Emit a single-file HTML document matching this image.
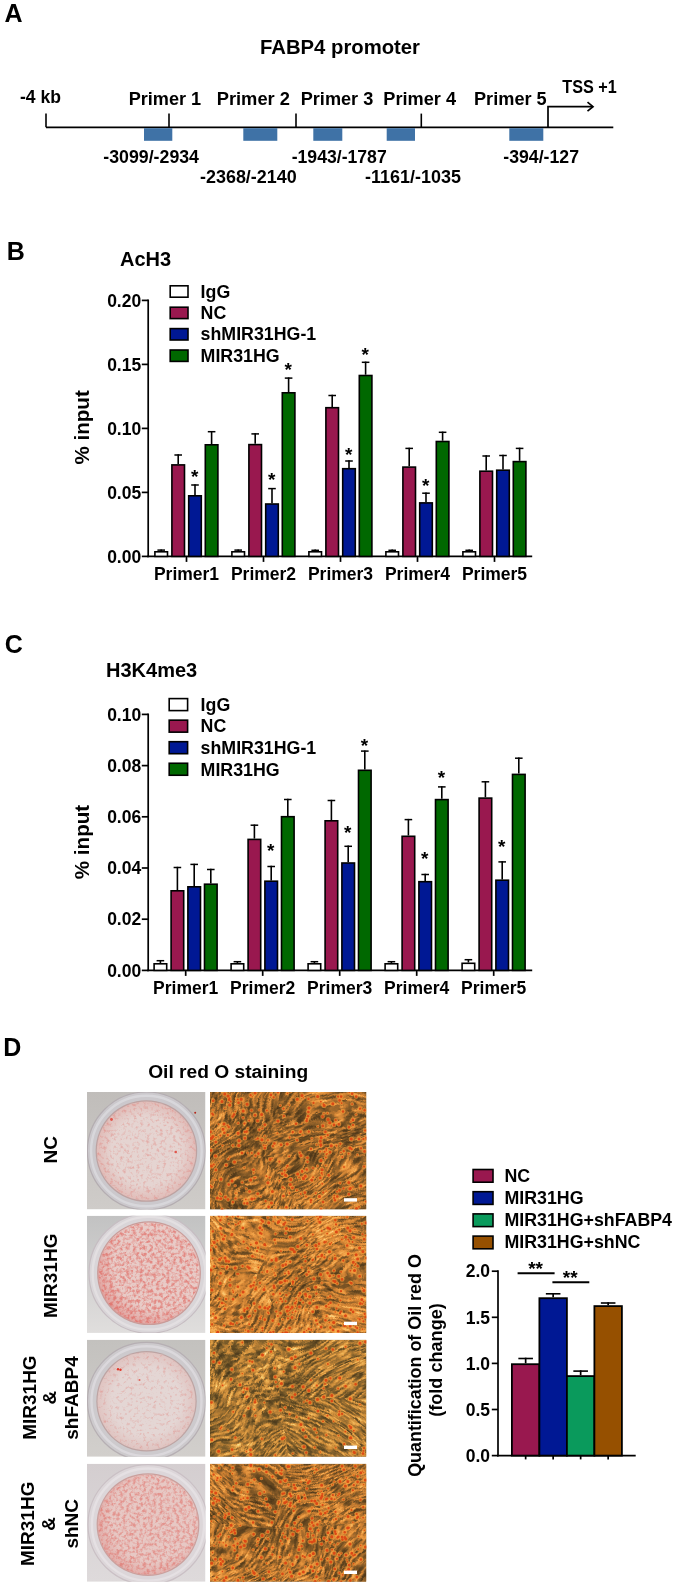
<!DOCTYPE html>
<html><head><meta charset="utf-8"><title>figure</title>
<style>html,body{margin:0;padding:0;background:#fff;} svg{display:block;will-change:transform} text{font-family:"Liberation Sans",sans-serif;fill:#000}</style>
</head><body>
<svg width="675" height="1586" viewBox="0 0 675 1586">
<defs>
<filter id="soft" x="-0.05" y="-0.05" width="1.1" height="1.1"><feGaussianBlur stdDeviation="0.45"/></filter>
<linearGradient id="bgd0" x1="0" y1="0" x2="0" y2="1"><stop offset="0" stop-color="#c0bdba"/><stop offset="1" stop-color="#cfccc9"/></linearGradient>
<radialGradient id="dish0" cx="0.5" cy="0.5" r="0.5"><stop offset="0" stop-color="#e5d4d1"/><stop offset="0.7" stop-color="#e5d4d1"/><stop offset="1" stop-color="#e1bcb8"/></radialGradient>
<clipPath id="cd0"><rect x="87" y="1092" width="118.5" height="117.4"/></clipPath>
<clipPath id="cm0"><rect x="210" y="1092" width="156.4" height="117.4"/></clipPath>
<clipPath id="cmp0_0"><polygon points="210.0,1092.0 280.4,1092.0 264.7,1156.6 210.0,1174.2"/></clipPath>
<clipPath id="cmp0_1"><polygon points="280.4,1092.0 366.4,1092.0 366.4,1144.8 264.7,1156.6"/></clipPath>
<clipPath id="cmp0_2"><polygon points="210.0,1174.2 264.7,1156.6 303.8,1209.4 210.0,1209.4"/></clipPath>
<clipPath id="cmp0_3"><polygon points="264.7,1156.6 366.4,1144.8 366.4,1209.4 303.8,1209.4"/></clipPath>
<filter id="speck0" x="0" y="0" width="1" height="1" color-interpolation-filters="sRGB"><feTurbulence type="fractalNoise" baseFrequency="0.3" numOctaves="3" seed="3" result="n"/><feColorMatrix in="n" type="matrix" values="0 0 0 0 0.87  0 0 0 0 0.33  0 0 0 0 0.30  3.0 0 0 0 -1.5" result="a"/><feComponentTransfer in="a" result="a2"><feFuncA type="linear" slope="0.3"/></feComponentTransfer><feGaussianBlur in="a2" stdDeviation="0.5" result="a3"/><feComposite in="a3" in2="SourceGraphic" operator="in"/></filter>
<filter id="mic0" x="0" y="0" width="1" height="1" color-interpolation-filters="sRGB">
<feTurbulence type="fractalNoise" baseFrequency="0.085 0.42" numOctaves="3" seed="2" result="n1"/>
<feTurbulence type="fractalNoise" baseFrequency="0.012" numOctaves="2" seed="4" result="nd"/>
<feDisplacementMap in="n1" in2="nd" scale="70" xChannelSelector="R" yChannelSelector="G" result="n1d"/>
<feColorMatrix in="n1d" type="matrix" values="1 0 0 0 0  1 0 0 0 0  1 0 0 0 0  0 0 0 0 1" result="g1"/>
<feTurbulence type="fractalNoise" baseFrequency="0.022" numOctaves="2" seed="5" result="n2"/>
<feColorMatrix in="n2" type="matrix" values="1 0 0 0 0  1 0 0 0 0  1 0 0 0 0  0 0 0 0 1" result="g2"/>
<feComposite in="g1" in2="g2" operator="arithmetic" k1="0" k2="1.1" k3="0.4" k4="-0.280" result="g"/>
<feComponentTransfer in="g">
<feFuncR type="table" tableValues="0.280 0.320 0.400 0.550 0.790 0.930 0.980 1.000"/>
<feFuncG type="table" tableValues="0.200 0.225 0.280 0.370 0.495 0.610 0.750 0.870"/>
<feFuncB type="table" tableValues="0.090 0.105 0.125 0.160 0.195 0.260 0.400 0.560"/>
</feComponentTransfer>
</filter>
<linearGradient id="bgd1" x1="0" y1="0" x2="0" y2="1"><stop offset="0" stop-color="#c2c2c2"/><stop offset="1" stop-color="#e0dedd"/></linearGradient>
<radialGradient id="dish1" cx="0.6" cy="0.4" r="0.66"><stop offset="0" stop-color="#e8cbc7"/><stop offset="0.7" stop-color="#e8cbc7"/><stop offset="1" stop-color="#e19d99"/></radialGradient>
<clipPath id="cd1"><rect x="87" y="1215.7" width="118.5" height="117.2"/></clipPath>
<clipPath id="cm1"><rect x="210" y="1215.7" width="156.4" height="117.2"/></clipPath>
<clipPath id="cmp1_0"><polygon points="210.0,1215.7 288.2,1215.7 256.9,1274.3 210.0,1268.4"/></clipPath>
<clipPath id="cmp1_1"><polygon points="288.2,1215.7 366.4,1215.7 366.4,1286.0 256.9,1274.3"/></clipPath>
<clipPath id="cmp1_2"><polygon points="210.0,1268.4 256.9,1274.3 288.2,1332.9 210.0,1332.9"/></clipPath>
<clipPath id="cmp1_3"><polygon points="256.9,1274.3 366.4,1286.0 366.4,1332.9 288.2,1332.9"/></clipPath>
<filter id="speck1" x="0" y="0" width="1" height="1" color-interpolation-filters="sRGB"><feTurbulence type="fractalNoise" baseFrequency="0.3" numOctaves="3" seed="8" result="n"/><feColorMatrix in="n" type="matrix" values="0 0 0 0 0.87  0 0 0 0 0.33  0 0 0 0 0.30  3.0 0 0 0 -1.2" result="a"/><feComponentTransfer in="a" result="a2"><feFuncA type="linear" slope="0.55"/></feComponentTransfer><feGaussianBlur in="a2" stdDeviation="0.5" result="a3"/><feComposite in="a3" in2="SourceGraphic" operator="in"/></filter>
<filter id="mic1" x="0" y="0" width="1" height="1" color-interpolation-filters="sRGB">
<feTurbulence type="fractalNoise" baseFrequency="0.085 0.42" numOctaves="3" seed="9" result="n1"/>
<feTurbulence type="fractalNoise" baseFrequency="0.012" numOctaves="2" seed="15" result="nd"/>
<feDisplacementMap in="n1" in2="nd" scale="70" xChannelSelector="R" yChannelSelector="G" result="n1d"/>
<feColorMatrix in="n1d" type="matrix" values="1 0 0 0 0  1 0 0 0 0  1 0 0 0 0  0 0 0 0 1" result="g1"/>
<feTurbulence type="fractalNoise" baseFrequency="0.022" numOctaves="2" seed="8" result="n2"/>
<feColorMatrix in="n2" type="matrix" values="1 0 0 0 0  1 0 0 0 0  1 0 0 0 0  0 0 0 0 1" result="g2"/>
<feComposite in="g1" in2="g2" operator="arithmetic" k1="0" k2="1.1" k3="0.4" k4="-0.210" result="g"/>
<feComponentTransfer in="g">
<feFuncR type="table" tableValues="0.280 0.320 0.400 0.550 0.790 0.930 0.980 1.000"/>
<feFuncG type="table" tableValues="0.200 0.225 0.280 0.370 0.495 0.610 0.750 0.870"/>
<feFuncB type="table" tableValues="0.090 0.105 0.125 0.160 0.195 0.260 0.400 0.560"/>
</feComponentTransfer>
</filter>
<linearGradient id="bgd2" x1="0" y1="0" x2="0" y2="1"><stop offset="0" stop-color="#c3c1be"/><stop offset="1" stop-color="#d2cfcc"/></linearGradient>
<radialGradient id="dish2" cx="0.5" cy="0.5" r="0.5"><stop offset="0" stop-color="#e4d6d4"/><stop offset="0.7" stop-color="#e4d6d4"/><stop offset="1" stop-color="#e0c4c1"/></radialGradient>
<clipPath id="cd2"><rect x="87" y="1339.7" width="118.5" height="117.1"/></clipPath>
<clipPath id="cm2"><rect x="210" y="1339.7" width="156.4" height="117.1"/></clipPath>
<clipPath id="cmp2_0"><polygon points="210.0,1339.7 272.6,1339.7 280.4,1398.2 210.0,1410.0"/></clipPath>
<clipPath id="cmp2_1"><polygon points="272.6,1339.7 366.4,1339.7 366.4,1398.2 280.4,1398.2"/></clipPath>
<clipPath id="cmp2_2"><polygon points="210.0,1410.0 280.4,1398.2 288.2,1456.8 210.0,1456.8"/></clipPath>
<clipPath id="cmp2_3"><polygon points="280.4,1398.2 366.4,1398.2 366.4,1456.8 288.2,1456.8"/></clipPath>
<filter id="speck2" x="0" y="0" width="1" height="1" color-interpolation-filters="sRGB"><feTurbulence type="fractalNoise" baseFrequency="0.3" numOctaves="3" seed="5" result="n"/><feColorMatrix in="n" type="matrix" values="0 0 0 0 0.87  0 0 0 0 0.33  0 0 0 0 0.30  3.0 0 0 0 -1.6" result="a"/><feComponentTransfer in="a" result="a2"><feFuncA type="linear" slope="0.27"/></feComponentTransfer><feGaussianBlur in="a2" stdDeviation="0.5" result="a3"/><feComposite in="a3" in2="SourceGraphic" operator="in"/></filter>
<filter id="mic2" x="0" y="0" width="1" height="1" color-interpolation-filters="sRGB">
<feTurbulence type="fractalNoise" baseFrequency="0.085 0.42" numOctaves="3" seed="16" result="n1"/>
<feTurbulence type="fractalNoise" baseFrequency="0.012" numOctaves="2" seed="26" result="nd"/>
<feDisplacementMap in="n1" in2="nd" scale="70" xChannelSelector="R" yChannelSelector="G" result="n1d"/>
<feColorMatrix in="n1d" type="matrix" values="1 0 0 0 0  1 0 0 0 0  1 0 0 0 0  0 0 0 0 1" result="g1"/>
<feTurbulence type="fractalNoise" baseFrequency="0.022" numOctaves="2" seed="11" result="n2"/>
<feColorMatrix in="n2" type="matrix" values="1 0 0 0 0  1 0 0 0 0  1 0 0 0 0  0 0 0 0 1" result="g2"/>
<feComposite in="g1" in2="g2" operator="arithmetic" k1="0" k2="1.1" k3="0.4" k4="-0.260" result="g"/>
<feComponentTransfer in="g">
<feFuncR type="table" tableValues="0.274 0.314 0.392 0.539 0.774 0.911 0.960 0.980"/>
<feFuncG type="table" tableValues="0.214 0.241 0.300 0.396 0.530 0.653 0.802 0.931"/>
<feFuncB type="table" tableValues="0.101 0.118 0.140 0.179 0.218 0.291 0.448 0.627"/>
</feComponentTransfer>
</filter>
<linearGradient id="bgd3" x1="0" y1="0" x2="0" y2="1"><stop offset="0" stop-color="#d4ced0"/><stop offset="1" stop-color="#dedadb"/></linearGradient>
<radialGradient id="dish3" cx="0.55" cy="0.45" r="0.6"><stop offset="0" stop-color="#e7c8c4"/><stop offset="0.7" stop-color="#e7c8c4"/><stop offset="1" stop-color="#e1a8a4"/></radialGradient>
<clipPath id="cd3"><rect x="87" y="1463.7" width="118.5" height="118.1"/></clipPath>
<clipPath id="cm3"><rect x="210" y="1463.7" width="156.4" height="118.1"/></clipPath>
<clipPath id="cmp3_0"><polygon points="210.0,1463.7 288.2,1463.7 272.6,1528.7 210.0,1522.8"/></clipPath>
<clipPath id="cmp3_1"><polygon points="288.2,1463.7 366.4,1463.7 366.4,1522.8 272.6,1528.7"/></clipPath>
<clipPath id="cmp3_2"><polygon points="210.0,1522.8 272.6,1528.7 280.4,1581.8 210.0,1581.8"/></clipPath>
<clipPath id="cmp3_3"><polygon points="272.6,1528.7 366.4,1522.8 366.4,1581.8 280.4,1581.8"/></clipPath>
<filter id="speck3" x="0" y="0" width="1" height="1" color-interpolation-filters="sRGB"><feTurbulence type="fractalNoise" baseFrequency="0.3" numOctaves="3" seed="12" result="n"/><feColorMatrix in="n" type="matrix" values="0 0 0 0 0.87  0 0 0 0 0.33  0 0 0 0 0.30  3.0 0 0 0 -1.25" result="a"/><feComponentTransfer in="a" result="a2"><feFuncA type="linear" slope="0.45"/></feComponentTransfer><feGaussianBlur in="a2" stdDeviation="0.5" result="a3"/><feComposite in="a3" in2="SourceGraphic" operator="in"/></filter>
<filter id="mic3" x="0" y="0" width="1" height="1" color-interpolation-filters="sRGB">
<feTurbulence type="fractalNoise" baseFrequency="0.085 0.42" numOctaves="3" seed="23" result="n1"/>
<feTurbulence type="fractalNoise" baseFrequency="0.012" numOctaves="2" seed="37" result="nd"/>
<feDisplacementMap in="n1" in2="nd" scale="70" xChannelSelector="R" yChannelSelector="G" result="n1d"/>
<feColorMatrix in="n1d" type="matrix" values="1 0 0 0 0  1 0 0 0 0  1 0 0 0 0  0 0 0 0 1" result="g1"/>
<feTurbulence type="fractalNoise" baseFrequency="0.022" numOctaves="2" seed="14" result="n2"/>
<feColorMatrix in="n2" type="matrix" values="1 0 0 0 0  1 0 0 0 0  1 0 0 0 0  0 0 0 0 1" result="g2"/>
<feComposite in="g1" in2="g2" operator="arithmetic" k1="0" k2="1.1" k3="0.4" k4="-0.250" result="g"/>
<feComponentTransfer in="g">
<feFuncR type="table" tableValues="0.280 0.320 0.400 0.550 0.790 0.930 0.980 1.000"/>
<feFuncG type="table" tableValues="0.200 0.225 0.280 0.370 0.495 0.610 0.750 0.870"/>
<feFuncB type="table" tableValues="0.090 0.105 0.125 0.160 0.195 0.260 0.400 0.560"/>
</feComponentTransfer>
</filter>
</defs>
<rect width="675" height="1586" fill="#fff"/>
<text x="4.6" y="21.8" font-size="25" font-weight="bold" text-anchor="start" >A</text>
<text x="340" y="53.6" font-size="19.3" font-weight="bold" text-anchor="middle" textLength="160" lengthAdjust="spacingAndGlyphs" >FABP4 promoter</text>
<line x1="46" y1="127.3" x2="613.3" y2="127.3" stroke="#000" stroke-width="1.7" />
<line x1="46" y1="113.6" x2="46" y2="127.3" stroke="#000" stroke-width="1.6" />
<line x1="169" y1="113.6" x2="169" y2="127.3" stroke="#000" stroke-width="1.6" />
<line x1="296" y1="113.6" x2="296" y2="127.3" stroke="#000" stroke-width="1.6" />
<line x1="421.3" y1="113.6" x2="421.3" y2="127.3" stroke="#000" stroke-width="1.6" />
<polyline points="548,127.3 548,106.7 592.5,106.7" fill="none" stroke="#000" stroke-width="1.7"/>
<polyline points="587.5,102.2 593,106.7 587.5,111.2" fill="none" stroke="#000" stroke-width="1.7"/>
<rect x="144" y="128.2" width="28.3" height="12.6" fill="#3f72a6"/>
<rect x="243.3" y="128.2" width="34.0" height="12.6" fill="#3f72a6"/>
<rect x="313.3" y="128.2" width="29.0" height="12.6" fill="#3f72a6"/>
<rect x="386.7" y="128.2" width="28.3" height="12.6" fill="#3f72a6"/>
<rect x="509.3" y="128.2" width="34.0" height="12.6" fill="#3f72a6"/>
<text x="20" y="102.7" font-size="18.8" font-weight="bold" text-anchor="start" textLength="41" lengthAdjust="spacingAndGlyphs" >-4 kb</text>
<text x="128.7" y="105" font-size="18.8" font-weight="bold" text-anchor="start" textLength="72.5" lengthAdjust="spacingAndGlyphs" >Primer 1</text>
<text x="216.7" y="105" font-size="18.8" font-weight="bold" text-anchor="start" textLength="73.3" lengthAdjust="spacingAndGlyphs" >Primer 2</text>
<text x="300.7" y="105" font-size="18.8" font-weight="bold" text-anchor="start" textLength="72.6" lengthAdjust="spacingAndGlyphs" >Primer 3</text>
<text x="383.3" y="105" font-size="18.8" font-weight="bold" text-anchor="start" textLength="72.7" lengthAdjust="spacingAndGlyphs" >Primer 4</text>
<text x="474" y="105" font-size="18.8" font-weight="bold" text-anchor="start" textLength="72.7" lengthAdjust="spacingAndGlyphs" >Primer 5</text>
<text x="562.3" y="92.7" font-size="18.8" font-weight="bold" text-anchor="start" textLength="54.4" lengthAdjust="spacingAndGlyphs" >TSS +1</text>
<text x="103.3" y="163.3" font-size="18.8" font-weight="bold" text-anchor="start" textLength="95.7" lengthAdjust="spacingAndGlyphs" >-3099/-2934</text>
<text x="200" y="183.3" font-size="18.8" font-weight="bold" text-anchor="start" textLength="96.7" lengthAdjust="spacingAndGlyphs" >-2368/-2140</text>
<text x="291.7" y="163.3" font-size="18.8" font-weight="bold" text-anchor="start" textLength="95" lengthAdjust="spacingAndGlyphs" >-1943/-1787</text>
<text x="365" y="183.3" font-size="18.8" font-weight="bold" text-anchor="start" textLength="96" lengthAdjust="spacingAndGlyphs" >-1161/-1035</text>
<text x="503.3" y="163.3" font-size="18.8" font-weight="bold" text-anchor="start" textLength="75.7" lengthAdjust="spacingAndGlyphs" >-394/-127</text>
<text x="6.7" y="260" font-size="25" font-weight="bold" text-anchor="start" >B</text>
<text x="120" y="266" font-size="20" font-weight="bold" text-anchor="start" >AcH3</text>
<line x1="148.2" y1="299.54999999999995" x2="148.2" y2="557.25" stroke="#000" stroke-width="1.7" />
<line x1="147.35" y1="556.4" x2="532.2" y2="556.4" stroke="#000" stroke-width="1.8" />
<line x1="141.8" y1="556.4" x2="148.2" y2="556.4" stroke="#000" stroke-width="1.7" />
<text x="141.2" y="562.6" font-size="17.5" font-weight="bold" text-anchor="end" >0.00</text>
<line x1="141.8" y1="492.4" x2="148.2" y2="492.4" stroke="#000" stroke-width="1.7" />
<text x="141.2" y="498.59999999999997" font-size="17.5" font-weight="bold" text-anchor="end" >0.05</text>
<line x1="141.8" y1="428.4" x2="148.2" y2="428.4" stroke="#000" stroke-width="1.7" />
<text x="141.2" y="434.59999999999997" font-size="17.5" font-weight="bold" text-anchor="end" >0.10</text>
<line x1="141.8" y1="364.4" x2="148.2" y2="364.4" stroke="#000" stroke-width="1.7" />
<text x="141.2" y="370.59999999999997" font-size="17.5" font-weight="bold" text-anchor="end" >0.15</text>
<line x1="141.8" y1="300.4" x2="148.2" y2="300.4" stroke="#000" stroke-width="1.7" />
<text x="141.2" y="306.59999999999997" font-size="17.5" font-weight="bold" text-anchor="end" >0.20</text>
<text transform="translate(89,427.4) rotate(-90)" font-size="20.6" font-weight="bold" text-anchor="middle" >% input</text>
<rect x="170.20" y="285.80" width="17.80" height="11.40" fill="#fff" stroke="#000" stroke-width="1.6"/>
<text x="200.6" y="297.5" font-size="17.8" font-weight="bold" text-anchor="start" >IgG</text>
<rect x="170.20" y="307.20" width="17.80" height="11.40" fill="#99184f" stroke="#000" stroke-width="1.6"/>
<text x="200.6" y="318.9" font-size="17.8" font-weight="bold" text-anchor="start" >NC</text>
<rect x="170.20" y="328.60" width="17.80" height="11.40" fill="#001894" stroke="#000" stroke-width="1.6"/>
<text x="200.6" y="340.3" font-size="17.8" font-weight="bold" text-anchor="start" >shMIR31HG-1</text>
<rect x="170.20" y="350.00" width="17.80" height="11.40" fill="#006800" stroke="#000" stroke-width="1.6"/>
<text x="200.6" y="361.7" font-size="17.8" font-weight="bold" text-anchor="start" >MIR31HG</text>
<line x1="161.2" y1="549.4" x2="161.2" y2="551.0" stroke="#000" stroke-width="1.6" />
<line x1="157.39999999999998" y1="550.1" x2="165.0" y2="550.1" stroke="#000" stroke-width="1.5" />
<rect x="154.90" y="551.80" width="12.60" height="4.60" fill="#fff" stroke="#000" stroke-width="1.6"/>
<line x1="178.2" y1="454.3" x2="178.2" y2="464.1" stroke="#000" stroke-width="1.6" />
<line x1="174.39999999999998" y1="455.0" x2="182.0" y2="455.0" stroke="#000" stroke-width="1.5" />
<rect x="171.90" y="464.90" width="12.60" height="91.50" fill="#99184f" stroke="#000" stroke-width="1.6"/>
<line x1="194.99999999999997" y1="484.3" x2="194.99999999999997" y2="495.0" stroke="#000" stroke-width="1.6" />
<line x1="191.19999999999996" y1="485.0" x2="198.79999999999998" y2="485.0" stroke="#000" stroke-width="1.5" />
<rect x="188.70" y="495.80" width="12.60" height="60.60" fill="#001894" stroke="#000" stroke-width="1.6"/>
<line x1="211.6" y1="431.0" x2="211.6" y2="444.0" stroke="#000" stroke-width="1.6" />
<line x1="207.79999999999998" y1="431.7" x2="215.4" y2="431.7" stroke="#000" stroke-width="1.5" />
<rect x="205.30" y="444.80" width="12.60" height="111.60" fill="#006800" stroke="#000" stroke-width="1.6"/>
<line x1="186.5" y1="556.4" x2="186.5" y2="561.9" stroke="#000" stroke-width="1.7" />
<text x="186.5" y="579.9" font-size="17.5" font-weight="bold" text-anchor="middle" >Primer1</text>
<line x1="238.2" y1="549.4" x2="238.2" y2="551.0" stroke="#000" stroke-width="1.6" />
<line x1="234.39999999999998" y1="550.1" x2="242.0" y2="550.1" stroke="#000" stroke-width="1.5" />
<rect x="231.90" y="551.80" width="12.60" height="4.60" fill="#fff" stroke="#000" stroke-width="1.6"/>
<line x1="255.2" y1="433.2" x2="255.2" y2="443.8" stroke="#000" stroke-width="1.6" />
<line x1="251.39999999999998" y1="433.9" x2="259.0" y2="433.9" stroke="#000" stroke-width="1.5" />
<rect x="248.90" y="444.60" width="12.60" height="111.80" fill="#99184f" stroke="#000" stroke-width="1.6"/>
<line x1="272.0" y1="487.9" x2="272.0" y2="503.2" stroke="#000" stroke-width="1.6" />
<line x1="268.2" y1="488.59999999999997" x2="275.8" y2="488.59999999999997" stroke="#000" stroke-width="1.5" />
<rect x="265.70" y="504.00" width="12.60" height="52.40" fill="#001894" stroke="#000" stroke-width="1.6"/>
<line x1="288.6" y1="377.4" x2="288.6" y2="392.0" stroke="#000" stroke-width="1.6" />
<line x1="284.8" y1="378.09999999999997" x2="292.40000000000003" y2="378.09999999999997" stroke="#000" stroke-width="1.5" />
<rect x="282.30" y="392.80" width="12.60" height="163.60" fill="#006800" stroke="#000" stroke-width="1.6"/>
<line x1="263.5" y1="556.4" x2="263.5" y2="561.9" stroke="#000" stroke-width="1.7" />
<text x="263.5" y="579.9" font-size="17.5" font-weight="bold" text-anchor="middle" >Primer2</text>
<line x1="315.20000000000005" y1="549.6" x2="315.20000000000005" y2="551.0" stroke="#000" stroke-width="1.6" />
<line x1="311.40000000000003" y1="550.3000000000001" x2="319.00000000000006" y2="550.3000000000001" stroke="#000" stroke-width="1.5" />
<rect x="308.90" y="551.80" width="12.60" height="4.60" fill="#fff" stroke="#000" stroke-width="1.6"/>
<line x1="332.20000000000005" y1="394.8" x2="332.20000000000005" y2="406.9" stroke="#000" stroke-width="1.6" />
<line x1="328.40000000000003" y1="395.5" x2="336.00000000000006" y2="395.5" stroke="#000" stroke-width="1.5" />
<rect x="325.90" y="407.70" width="12.60" height="148.70" fill="#99184f" stroke="#000" stroke-width="1.6"/>
<line x1="349.00000000000006" y1="460.3" x2="349.00000000000006" y2="467.9" stroke="#000" stroke-width="1.6" />
<line x1="345.20000000000005" y1="461.0" x2="352.80000000000007" y2="461.0" stroke="#000" stroke-width="1.5" />
<rect x="342.70" y="468.70" width="12.60" height="87.70" fill="#001894" stroke="#000" stroke-width="1.6"/>
<line x1="365.6" y1="361.6" x2="365.6" y2="374.7" stroke="#000" stroke-width="1.6" />
<line x1="361.8" y1="362.3" x2="369.40000000000003" y2="362.3" stroke="#000" stroke-width="1.5" />
<rect x="359.30" y="375.50" width="12.60" height="180.90" fill="#006800" stroke="#000" stroke-width="1.6"/>
<line x1="340.5" y1="556.4" x2="340.5" y2="561.9" stroke="#000" stroke-width="1.7" />
<text x="340.5" y="579.9" font-size="17.5" font-weight="bold" text-anchor="middle" >Primer3</text>
<line x1="392.20000000000005" y1="549.6" x2="392.20000000000005" y2="551.0" stroke="#000" stroke-width="1.6" />
<line x1="388.40000000000003" y1="550.3000000000001" x2="396.00000000000006" y2="550.3000000000001" stroke="#000" stroke-width="1.5" />
<rect x="385.90" y="551.80" width="12.60" height="4.60" fill="#fff" stroke="#000" stroke-width="1.6"/>
<line x1="409.20000000000005" y1="447.7" x2="409.20000000000005" y2="466.3" stroke="#000" stroke-width="1.6" />
<line x1="405.40000000000003" y1="448.4" x2="413.00000000000006" y2="448.4" stroke="#000" stroke-width="1.5" />
<rect x="402.90" y="467.10" width="12.60" height="89.30" fill="#99184f" stroke="#000" stroke-width="1.6"/>
<line x1="426.00000000000006" y1="492.5" x2="426.00000000000006" y2="502.1" stroke="#000" stroke-width="1.6" />
<line x1="422.20000000000005" y1="493.2" x2="429.80000000000007" y2="493.2" stroke="#000" stroke-width="1.5" />
<rect x="419.70" y="502.90" width="12.60" height="53.50" fill="#001894" stroke="#000" stroke-width="1.6"/>
<line x1="442.6" y1="431.6" x2="442.6" y2="440.7" stroke="#000" stroke-width="1.6" />
<line x1="438.8" y1="432.3" x2="446.40000000000003" y2="432.3" stroke="#000" stroke-width="1.5" />
<rect x="436.30" y="441.50" width="12.60" height="114.90" fill="#006800" stroke="#000" stroke-width="1.6"/>
<line x1="417.5" y1="556.4" x2="417.5" y2="561.9" stroke="#000" stroke-width="1.7" />
<text x="417.5" y="579.9" font-size="17.5" font-weight="bold" text-anchor="middle" >Primer4</text>
<line x1="469.20000000000005" y1="549.6" x2="469.20000000000005" y2="551.0" stroke="#000" stroke-width="1.6" />
<line x1="465.40000000000003" y1="550.3000000000001" x2="473.00000000000006" y2="550.3000000000001" stroke="#000" stroke-width="1.5" />
<rect x="462.90" y="551.80" width="12.60" height="4.60" fill="#fff" stroke="#000" stroke-width="1.6"/>
<line x1="486.20000000000005" y1="455.3" x2="486.20000000000005" y2="470.4" stroke="#000" stroke-width="1.6" />
<line x1="482.40000000000003" y1="456.0" x2="490.00000000000006" y2="456.0" stroke="#000" stroke-width="1.5" />
<rect x="479.90" y="471.20" width="12.60" height="85.20" fill="#99184f" stroke="#000" stroke-width="1.6"/>
<line x1="503.00000000000006" y1="454.8" x2="503.00000000000006" y2="469.4" stroke="#000" stroke-width="1.6" />
<line x1="499.20000000000005" y1="455.5" x2="506.80000000000007" y2="455.5" stroke="#000" stroke-width="1.5" />
<rect x="496.70" y="470.20" width="12.60" height="86.20" fill="#001894" stroke="#000" stroke-width="1.6"/>
<line x1="519.6" y1="447.7" x2="519.6" y2="460.8" stroke="#000" stroke-width="1.6" />
<line x1="515.8000000000001" y1="448.4" x2="523.4" y2="448.4" stroke="#000" stroke-width="1.5" />
<rect x="513.30" y="461.60" width="12.60" height="94.80" fill="#006800" stroke="#000" stroke-width="1.6"/>
<line x1="494.5" y1="556.4" x2="494.5" y2="561.9" stroke="#000" stroke-width="1.7" />
<text x="494.5" y="579.9" font-size="17.5" font-weight="bold" text-anchor="middle" >Primer5</text>
<text x="194.59999999999997" y="483.40000000000003" font-size="19" font-weight="bold" text-anchor="middle" >*</text>
<text x="271.6" y="486.20000000000005" font-size="19" font-weight="bold" text-anchor="middle" >*</text>
<text x="288.20000000000005" y="376.40000000000003" font-size="19" font-weight="bold" text-anchor="middle" >*</text>
<text x="348.6000000000001" y="461.3" font-size="19" font-weight="bold" text-anchor="middle" >*</text>
<text x="365.20000000000005" y="360.6" font-size="19" font-weight="bold" text-anchor="middle" >*</text>
<text x="425.6000000000001" y="491.6" font-size="19" font-weight="bold" text-anchor="middle" >*</text>
<text x="4.8" y="653.3" font-size="25" font-weight="bold" text-anchor="start" >C</text>
<text x="106" y="677.3" font-size="20" font-weight="bold" text-anchor="start" >H3K4me3</text>
<line x1="148.2" y1="713.55" x2="148.2" y2="971.25" stroke="#000" stroke-width="1.7" />
<line x1="147.35" y1="970.4" x2="532.2" y2="970.4" stroke="#000" stroke-width="1.8" />
<line x1="141.8" y1="970.4" x2="148.2" y2="970.4" stroke="#000" stroke-width="1.7" />
<text x="141.2" y="976.6" font-size="17.5" font-weight="bold" text-anchor="end" >0.00</text>
<line x1="141.8" y1="919.1999999999999" x2="148.2" y2="919.1999999999999" stroke="#000" stroke-width="1.7" />
<text x="141.2" y="925.4" font-size="17.5" font-weight="bold" text-anchor="end" >0.02</text>
<line x1="141.8" y1="868.0" x2="148.2" y2="868.0" stroke="#000" stroke-width="1.7" />
<text x="141.2" y="874.2" font-size="17.5" font-weight="bold" text-anchor="end" >0.04</text>
<line x1="141.8" y1="816.8" x2="148.2" y2="816.8" stroke="#000" stroke-width="1.7" />
<text x="141.2" y="823.0" font-size="17.5" font-weight="bold" text-anchor="end" >0.06</text>
<line x1="141.8" y1="765.5999999999999" x2="148.2" y2="765.5999999999999" stroke="#000" stroke-width="1.7" />
<text x="141.2" y="771.8" font-size="17.5" font-weight="bold" text-anchor="end" >0.08</text>
<line x1="141.8" y1="714.4" x2="148.2" y2="714.4" stroke="#000" stroke-width="1.7" />
<text x="141.2" y="720.6" font-size="17.5" font-weight="bold" text-anchor="end" >0.10</text>
<text transform="translate(89,842) rotate(-90)" font-size="20.6" font-weight="bold" text-anchor="middle" >% input</text>
<rect x="169.20" y="698.60" width="18.40" height="12.00" fill="#fff" stroke="#000" stroke-width="1.6"/>
<text x="200.6" y="710.9" font-size="17.8" font-weight="bold" text-anchor="start" >IgG</text>
<rect x="169.20" y="720.15" width="18.40" height="12.00" fill="#99184f" stroke="#000" stroke-width="1.6"/>
<text x="200.6" y="732.4499999999999" font-size="17.8" font-weight="bold" text-anchor="start" >NC</text>
<rect x="169.20" y="741.70" width="18.40" height="12.00" fill="#001894" stroke="#000" stroke-width="1.6"/>
<text x="200.6" y="754.0" font-size="17.8" font-weight="bold" text-anchor="start" >shMIR31HG-1</text>
<rect x="169.20" y="763.25" width="18.40" height="12.00" fill="#006800" stroke="#000" stroke-width="1.6"/>
<text x="200.6" y="775.55" font-size="17.8" font-weight="bold" text-anchor="start" >MIR31HG</text>
<line x1="160.4" y1="960.0" x2="160.4" y2="963.0" stroke="#000" stroke-width="1.6" />
<line x1="156.6" y1="960.7" x2="164.20000000000002" y2="960.7" stroke="#000" stroke-width="1.5" />
<rect x="154.10" y="963.80" width="12.60" height="6.60" fill="#fff" stroke="#000" stroke-width="1.6"/>
<line x1="177.4" y1="866.8" x2="177.4" y2="890.0" stroke="#000" stroke-width="1.6" />
<line x1="173.6" y1="867.5" x2="181.20000000000002" y2="867.5" stroke="#000" stroke-width="1.5" />
<rect x="171.10" y="890.80" width="12.60" height="79.60" fill="#99184f" stroke="#000" stroke-width="1.6"/>
<line x1="194.20000000000002" y1="863.7" x2="194.20000000000002" y2="886.0" stroke="#000" stroke-width="1.6" />
<line x1="190.4" y1="864.4000000000001" x2="198.00000000000003" y2="864.4000000000001" stroke="#000" stroke-width="1.5" />
<rect x="187.90" y="886.80" width="12.60" height="83.60" fill="#001894" stroke="#000" stroke-width="1.6"/>
<line x1="210.8" y1="868.8" x2="210.8" y2="883.4" stroke="#000" stroke-width="1.6" />
<line x1="207.0" y1="869.5" x2="214.60000000000002" y2="869.5" stroke="#000" stroke-width="1.5" />
<rect x="204.50" y="884.20" width="12.60" height="86.20" fill="#006800" stroke="#000" stroke-width="1.6"/>
<line x1="185.70000000000002" y1="970.4" x2="185.70000000000002" y2="975.9" stroke="#000" stroke-width="1.7" />
<text x="185.70000000000002" y="993.9" font-size="17.5" font-weight="bold" text-anchor="middle" >Primer1</text>
<line x1="237.4" y1="961.0" x2="237.4" y2="963.0" stroke="#000" stroke-width="1.6" />
<line x1="233.6" y1="961.7" x2="241.20000000000002" y2="961.7" stroke="#000" stroke-width="1.5" />
<rect x="231.10" y="963.80" width="12.60" height="6.60" fill="#fff" stroke="#000" stroke-width="1.6"/>
<line x1="254.4" y1="824.5" x2="254.4" y2="838.6" stroke="#000" stroke-width="1.6" />
<line x1="250.6" y1="825.2" x2="258.2" y2="825.2" stroke="#000" stroke-width="1.5" />
<rect x="248.10" y="839.40" width="12.60" height="131.00" fill="#99184f" stroke="#000" stroke-width="1.6"/>
<line x1="271.20000000000005" y1="865.8" x2="271.20000000000005" y2="880.4" stroke="#000" stroke-width="1.6" />
<line x1="267.40000000000003" y1="866.5" x2="275.00000000000006" y2="866.5" stroke="#000" stroke-width="1.5" />
<rect x="264.90" y="881.20" width="12.60" height="89.20" fill="#001894" stroke="#000" stroke-width="1.6"/>
<line x1="287.8" y1="798.8" x2="287.8" y2="815.9" stroke="#000" stroke-width="1.6" />
<line x1="284.0" y1="799.5" x2="291.6" y2="799.5" stroke="#000" stroke-width="1.5" />
<rect x="281.50" y="816.70" width="12.60" height="153.70" fill="#006800" stroke="#000" stroke-width="1.6"/>
<line x1="262.7" y1="970.4" x2="262.7" y2="975.9" stroke="#000" stroke-width="1.7" />
<text x="262.7" y="993.9" font-size="17.5" font-weight="bold" text-anchor="middle" >Primer2</text>
<line x1="314.40000000000003" y1="961.0" x2="314.40000000000003" y2="963.0" stroke="#000" stroke-width="1.6" />
<line x1="310.6" y1="961.7" x2="318.20000000000005" y2="961.7" stroke="#000" stroke-width="1.5" />
<rect x="308.10" y="963.80" width="12.60" height="6.60" fill="#fff" stroke="#000" stroke-width="1.6"/>
<line x1="331.40000000000003" y1="799.8" x2="331.40000000000003" y2="820.0" stroke="#000" stroke-width="1.6" />
<line x1="327.6" y1="800.5" x2="335.20000000000005" y2="800.5" stroke="#000" stroke-width="1.5" />
<rect x="325.10" y="820.80" width="12.60" height="149.60" fill="#99184f" stroke="#000" stroke-width="1.6"/>
<line x1="348.20000000000005" y1="845.6" x2="348.20000000000005" y2="862.2" stroke="#000" stroke-width="1.6" />
<line x1="344.40000000000003" y1="846.3000000000001" x2="352.00000000000006" y2="846.3000000000001" stroke="#000" stroke-width="1.5" />
<rect x="341.90" y="863.00" width="12.60" height="107.40" fill="#001894" stroke="#000" stroke-width="1.6"/>
<line x1="364.8" y1="750.4" x2="364.8" y2="769.5" stroke="#000" stroke-width="1.6" />
<line x1="361.0" y1="751.1" x2="368.6" y2="751.1" stroke="#000" stroke-width="1.5" />
<rect x="358.50" y="770.30" width="12.60" height="200.10" fill="#006800" stroke="#000" stroke-width="1.6"/>
<line x1="339.7" y1="970.4" x2="339.7" y2="975.9" stroke="#000" stroke-width="1.7" />
<text x="339.7" y="993.9" font-size="17.5" font-weight="bold" text-anchor="middle" >Primer3</text>
<line x1="391.40000000000003" y1="961.0" x2="391.40000000000003" y2="963.0" stroke="#000" stroke-width="1.6" />
<line x1="387.6" y1="961.7" x2="395.20000000000005" y2="961.7" stroke="#000" stroke-width="1.5" />
<rect x="385.10" y="963.80" width="12.60" height="6.60" fill="#fff" stroke="#000" stroke-width="1.6"/>
<line x1="408.40000000000003" y1="818.9" x2="408.40000000000003" y2="835.5" stroke="#000" stroke-width="1.6" />
<line x1="404.6" y1="819.6" x2="412.20000000000005" y2="819.6" stroke="#000" stroke-width="1.5" />
<rect x="402.10" y="836.30" width="12.60" height="134.10" fill="#99184f" stroke="#000" stroke-width="1.6"/>
<line x1="425.20000000000005" y1="873.8" x2="425.20000000000005" y2="880.9" stroke="#000" stroke-width="1.6" />
<line x1="421.40000000000003" y1="874.5" x2="429.00000000000006" y2="874.5" stroke="#000" stroke-width="1.5" />
<rect x="418.90" y="881.70" width="12.60" height="88.70" fill="#001894" stroke="#000" stroke-width="1.6"/>
<line x1="441.8" y1="786.2" x2="441.8" y2="798.8" stroke="#000" stroke-width="1.6" />
<line x1="438.0" y1="786.9000000000001" x2="445.6" y2="786.9000000000001" stroke="#000" stroke-width="1.5" />
<rect x="435.50" y="799.60" width="12.60" height="170.80" fill="#006800" stroke="#000" stroke-width="1.6"/>
<line x1="416.7" y1="970.4" x2="416.7" y2="975.9" stroke="#000" stroke-width="1.7" />
<text x="416.7" y="993.9" font-size="17.5" font-weight="bold" text-anchor="middle" >Primer4</text>
<line x1="468.40000000000003" y1="959.0" x2="468.40000000000003" y2="962.5" stroke="#000" stroke-width="1.6" />
<line x1="464.6" y1="959.7" x2="472.20000000000005" y2="959.7" stroke="#000" stroke-width="1.5" />
<rect x="462.10" y="963.30" width="12.60" height="7.10" fill="#fff" stroke="#000" stroke-width="1.6"/>
<line x1="485.40000000000003" y1="781.1" x2="485.40000000000003" y2="797.3" stroke="#000" stroke-width="1.6" />
<line x1="481.6" y1="781.8000000000001" x2="489.20000000000005" y2="781.8000000000001" stroke="#000" stroke-width="1.5" />
<rect x="479.10" y="798.10" width="12.60" height="172.30" fill="#99184f" stroke="#000" stroke-width="1.6"/>
<line x1="502.20000000000005" y1="861.2" x2="502.20000000000005" y2="879.4" stroke="#000" stroke-width="1.6" />
<line x1="498.40000000000003" y1="861.9000000000001" x2="506.00000000000006" y2="861.9000000000001" stroke="#000" stroke-width="1.5" />
<rect x="495.90" y="880.20" width="12.60" height="90.20" fill="#001894" stroke="#000" stroke-width="1.6"/>
<line x1="518.8" y1="757.5" x2="518.8" y2="773.6" stroke="#000" stroke-width="1.6" />
<line x1="515.0" y1="758.2" x2="522.5999999999999" y2="758.2" stroke="#000" stroke-width="1.5" />
<rect x="512.50" y="774.40" width="12.60" height="196.00" fill="#006800" stroke="#000" stroke-width="1.6"/>
<line x1="493.7" y1="970.4" x2="493.7" y2="975.9" stroke="#000" stroke-width="1.7" />
<text x="493.7" y="993.9" font-size="17.5" font-weight="bold" text-anchor="middle" >Primer5</text>
<text x="270.80000000000007" y="856.6" font-size="19" font-weight="bold" text-anchor="middle" >*</text>
<text x="347.80000000000007" y="838.6" font-size="19" font-weight="bold" text-anchor="middle" >*</text>
<text x="364.40000000000003" y="751.7" font-size="19" font-weight="bold" text-anchor="middle" >*</text>
<text x="424.80000000000007" y="865.3000000000001" font-size="19" font-weight="bold" text-anchor="middle" >*</text>
<text x="441.40000000000003" y="783.6" font-size="19" font-weight="bold" text-anchor="middle" >*</text>
<text x="501.80000000000007" y="852.6" font-size="19" font-weight="bold" text-anchor="middle" >*</text>
<text x="3.3" y="1056" font-size="25" font-weight="bold" text-anchor="start" >D</text>
<text x="148.2" y="1078.3" font-size="19.2" font-weight="bold" text-anchor="start" >Oil red O staining</text>
<g clip-path="url(#cd0)">
<rect x="87" y="1092" width="118.5" height="117.40000000000009" fill="url(#bgd0)"/>
<circle cx="146.4" cy="1151" r="59" fill="#cbc8cc" stroke="#b4adb1" stroke-width="1.2"/>
<circle cx="146.4" cy="1151" r="55.3" fill="none" stroke="#dbd9dd" stroke-width="2.4" opacity="0.85"/>
<circle cx="146.4" cy="1151" r="50.800000000000004" fill="#bda2a1"/>
<circle cx="146.4" cy="1151" r="49.6" fill="url(#dish0)"/>
<circle cx="146.4" cy="1151" r="49.300000000000004" fill="#d9483f" filter="url(#speck0)"/>
<circle cx="111.5" cy="1119.5" r="1.4" fill="#e0564c"/>
<circle cx="175.7" cy="1152" r="1.3" fill="#e0564c"/>
<circle cx="195.2" cy="1112.8" r="1.0" fill="#b5281e"/>
</g>
<g clip-path="url(#cm0)">
<rect x="210" y="1092" width="156.4" height="117.40000000000009" fill="#96682c"/>
<g clip-path="url(#cmp0_0)"><g transform="rotate(-55 288 1150.7)"><rect x="150" y="1010.7" width="280" height="280" filter="url(#mic0)"/></g></g>
<g clip-path="url(#cmp0_1)"><g transform="rotate(-20 288 1150.7)"><rect x="150" y="1010.7" width="280" height="280" filter="url(#mic0)"/></g></g>
<g clip-path="url(#cmp0_2)"><g transform="rotate(-65 288 1150.7)"><rect x="150" y="1010.7" width="280" height="280" filter="url(#mic0)"/></g></g>
<g clip-path="url(#cmp0_3)"><g transform="rotate(-40 288 1150.7)"><rect x="150" y="1010.7" width="280" height="280" filter="url(#mic0)"/></g></g>
<g filter="url(#soft)" stroke-linecap="round" fill="none">
<path d="M232.8 1145.4h0M313.0 1168.0h0M262.4 1128.3h0M267.9 1140.1h0M350.9 1188.0h0M344.0 1167.0h0M315.7 1193.1h0M322.3 1183.8h0M348.6 1153.6h0M323.4 1104.2h0M365.7 1201.7h0M263.7 1145.3h0M341.6 1103.1h0M342.3 1157.0h0M320.0 1151.6h0M269.5 1177.5h0M296.8 1190.2h0M245.8 1199.4h0M289.2 1156.3h0M222.8 1129.0h0M238.2 1123.2h0M266.9 1110.5h0M326.5 1154.3h0M289.6 1193.1h0M306.0 1196.4h0M292.8 1131.8h0M286.5 1175.9h0M359.7 1108.8h0M228.2 1159.0h0M289.6 1137.5h0M251.8 1152.9h0M334.4 1195.6h0M302.3 1171.3h0M337.1 1191.7h0M359.0 1206.8h0M313.1 1177.2h0M321.0 1208.8h0M300.7 1194.0h0M320.9 1101.6h0M299.1 1177.4h0M243.1 1117.7h0M310.8 1202.2h0M324.6 1151.7h0M336.5 1145.6h0M266.4 1176.2h0M220.3 1135.5h0M352.1 1104.1h0M220.0 1198.8h0M230.7 1101.5h0M237.7 1099.4h0M254.2 1177.8h0M220.2 1193.6h0M326.3 1149.0h0M340.1 1182.9h0M227.5 1125.5h0M325.8 1157.4h0M249.2 1120.6h0M242.2 1182.3h0" stroke="#f59a38" stroke-opacity="0.65" stroke-width="4.0"/>
<path d="M320.3 1177.9h0M352.9 1119.9h0M335.0 1200.3h0M337.3 1196.5h0M249.5 1191.5h0M330.0 1152.3h0M322.6 1116.6h0M306.7 1169.5h0M356.2 1096.6h0M229.2 1099.8h0M215.8 1142.1h0M304.9 1192.6h0M232.7 1116.5h0M296.0 1123.8h0M244.9 1138.2h0M220.9 1198.6h0M228.1 1199.5h0M283.4 1196.0h0M264.8 1148.1h0M257.7 1193.8h0M234.0 1114.5h0M242.0 1153.0h0M211.1 1150.4h0M364.6 1110.2h0M359.0 1139.0h0M228.7 1184.5h0M247.3 1203.4h0M341.2 1096.6h0M322.8 1125.9h0M325.4 1131.9h0M306.6 1121.0h0M334.0 1124.9h0M268.6 1206.9h0M338.9 1124.3h0M238.5 1102.7h0M364.5 1151.4h0M255.0 1115.2h0M270.9 1094.9h0M339.6 1190.3h0M258.4 1153.6h0M270.1 1159.5h0M213.2 1100.7h0M264.8 1124.7h0M328.7 1175.3h0M274.4 1143.5h0M292.5 1187.8h0M246.6 1131.6h0M300.5 1131.8h0M307.4 1157.8h0M224.4 1132.8h0M210.6 1131.9h0M348.9 1194.3h0M225.4 1197.1h0M311.0 1200.2h0M349.0 1127.3h0M286.4 1207.3h0M282.3 1173.8h0M302.1 1171.4h0M215.8 1169.9h0M352.2 1093.8h0M253.5 1169.8h0M323.0 1202.0h0M226.2 1165.1h0M308.1 1116.3h0M339.6 1100.4h0M308.4 1112.0h0M281.0 1144.8h0M343.0 1111.5h0M257.6 1120.9h0" stroke="#f59a38" stroke-opacity="0.65" stroke-width="4.8"/>
<path d="M289.3 1104.9h0M222.5 1145.5h0M235.4 1111.6h0M229.8 1157.0h0M366.2 1139.2h0M351.0 1121.8h0M218.5 1124.3h0M265.9 1145.5h0M284.4 1188.5h0M235.2 1185.8h0M224.8 1108.4h0M210.4 1185.5h0M256.1 1139.3h0M244.4 1167.6h0M260.7 1196.6h0M323.9 1113.6h0M349.3 1092.4h0M277.3 1133.3h0M213.1 1110.1h0M317.8 1126.5h0M325.2 1136.5h0M292.0 1187.6h0M320.7 1146.4h0M356.1 1114.5h0M259.2 1109.9h0M279.4 1180.8h0M326.2 1191.1h0M247.7 1153.0h0M303.3 1097.8h0M284.5 1172.9h0M357.4 1154.8h0M325.6 1165.4h0M316.6 1144.8h0M215.0 1179.7h0M246.3 1188.7h0M252.2 1096.7h0M341.0 1152.5h0M264.7 1136.0h0M255.6 1177.6h0M327.1 1153.6h0M327.4 1113.3h0M326.3 1150.7h0M272.1 1158.4h0M253.7 1172.9h0M301.2 1130.9h0M317.6 1166.0h0M280.3 1105.5h0M221.3 1194.6h0M302.8 1134.9h0M353.0 1187.0h0M216.0 1137.8h0M286.3 1167.8h0M311.9 1138.5h0M322.2 1174.7h0M287.4 1093.4h0M247.8 1128.4h0M235.9 1193.2h0" stroke="#f59a38" stroke-opacity="0.65" stroke-width="3.6"/>
<path d="M360.3 1108.5h0M273.0 1146.1h0M321.7 1173.0h0M292.6 1132.3h0M222.1 1209.4h0M363.4 1139.1h0M366.1 1137.8h0M343.5 1188.4h0M213.6 1164.5h0M343.8 1151.2h0M232.9 1202.2h0M311.0 1148.9h0M353.0 1125.1h0M227.8 1135.1h0M228.8 1127.2h0M340.3 1143.8h0M250.6 1095.2h0M313.5 1102.9h0M265.6 1201.2h0M244.3 1203.3h0M273.6 1097.3h0M277.9 1092.5h0M361.0 1148.3h0M287.5 1165.9h0M283.9 1116.1h0M327.7 1135.1h0M255.5 1155.7h0M307.5 1161.8h0M334.2 1198.0h0M299.8 1152.8h0M259.3 1129.7h0M251.5 1110.4h0M283.6 1108.6h0M307.0 1119.0h0M254.5 1198.5h0M364.1 1166.6h0M365.1 1130.5h0M257.8 1138.5h0M323.2 1192.5h0M308.8 1131.7h0M284.7 1170.4h0M308.5 1098.9h0M303.0 1177.8h0M244.8 1131.9h0M338.1 1096.6h0M212.2 1113.7h0M351.7 1149.2h0M335.7 1120.2h0M235.5 1198.5h0M211.6 1186.8h0M279.4 1161.6h0M244.5 1123.5h0M282.7 1187.3h0M297.1 1140.2h0M213.1 1114.7h0M229.5 1098.3h0" stroke="#f59a38" stroke-opacity="0.65" stroke-width="4.4"/>
<path d="M210.9 1138.4h0M305.3 1176.2h0M311.8 1179.9h0M356.5 1208.5h0M243.2 1110.9h0M309.0 1108.0h0M229.7 1105.1h0M232.0 1181.1h0M217.4 1198.0h0M302.0 1095.4h0M317.7 1096.6h0M234.5 1162.1h0M267.9 1182.8h0M331.3 1145.7h0M222.0 1101.5h0M261.9 1139.7h0M277.9 1121.1h0M255.1 1093.1h0M348.8 1182.5h0M349.9 1148.1h0M211.8 1138.0h0M241.3 1099.2h0M285.5 1175.2h0M287.2 1143.9h0M220.9 1179.2h0M223.1 1129.3h0M215.5 1156.0h0M320.3 1141.2h0M321.1 1137.8h0M239.1 1140.8h0M332.8 1103.8h0M321.0 1160.6h0M351.3 1139.1h0M297.3 1099.3h0M228.1 1096.0h0M251.9 1199.1h0M224.8 1094.0h0M261.6 1114.4h0M272.4 1191.6h0M212.9 1136.4h0M303.5 1178.7h0M320.8 1144.7h0M297.6 1174.1h0M349.9 1188.7h0M328.1 1119.6h0M238.1 1133.3h0M211.5 1166.1h0M290.7 1179.6h0M301.0 1155.4h0M329.7 1122.7h0M322.1 1169.8h0M290.3 1184.5h0M250.6 1179.9h0M247.1 1104.2h0M324.1 1105.5h0M360.8 1186.0h0M319.5 1196.6h0M224.0 1124.0h0M271.5 1202.9h0M238.8 1145.6h0" stroke="#f59a38" stroke-opacity="0.65" stroke-width="5.2"/>
<path d="M232.8 1145.4h0M313.0 1168.0h0M262.4 1128.3h0M267.9 1140.1h0M350.9 1188.0h0M344.0 1167.0h0M315.7 1193.1h0M322.3 1183.8h0M348.6 1153.6h0M323.4 1104.2h0M365.7 1201.7h0M263.7 1145.3h0M341.6 1103.1h0M342.3 1157.0h0M320.0 1151.6h0M269.5 1177.5h0M296.8 1190.2h0M245.8 1199.4h0M289.2 1156.3h0M222.8 1129.0h0M238.2 1123.2h0M266.9 1110.5h0M326.5 1154.3h0M289.6 1193.1h0M306.0 1196.4h0M292.8 1131.8h0M286.5 1175.9h0M359.7 1108.8h0M228.2 1159.0h0M289.6 1137.5h0M251.8 1152.9h0M334.4 1195.6h0M302.3 1171.3h0M337.1 1191.7h0M359.0 1206.8h0M313.1 1177.2h0M321.0 1208.8h0M300.7 1194.0h0M320.9 1101.6h0M299.1 1177.4h0M243.1 1117.7h0M310.8 1202.2h0M324.6 1151.7h0M336.5 1145.6h0M266.4 1176.2h0M220.3 1135.5h0M352.1 1104.1h0M220.0 1198.8h0M230.7 1101.5h0M237.7 1099.4h0M254.2 1177.8h0M220.2 1193.6h0M326.3 1149.0h0M340.1 1182.9h0M227.5 1125.5h0M325.8 1157.4h0M249.2 1120.6h0M242.2 1182.3h0" stroke="#dc4a16" stroke-width="1.8"/>
<path d="M320.3 1177.9h0M352.9 1119.9h0M335.0 1200.3h0M337.3 1196.5h0M249.5 1191.5h0M330.0 1152.3h0M322.6 1116.6h0M306.7 1169.5h0M356.2 1096.6h0M229.2 1099.8h0M215.8 1142.1h0M304.9 1192.6h0M232.7 1116.5h0M296.0 1123.8h0M244.9 1138.2h0M220.9 1198.6h0M228.1 1199.5h0M283.4 1196.0h0M264.8 1148.1h0M257.7 1193.8h0M234.0 1114.5h0M242.0 1153.0h0M211.1 1150.4h0M364.6 1110.2h0M359.0 1139.0h0M228.7 1184.5h0M247.3 1203.4h0M341.2 1096.6h0M322.8 1125.9h0M325.4 1131.9h0M306.6 1121.0h0M334.0 1124.9h0M268.6 1206.9h0M338.9 1124.3h0M238.5 1102.7h0M364.5 1151.4h0M255.0 1115.2h0M270.9 1094.9h0M339.6 1190.3h0M258.4 1153.6h0M270.1 1159.5h0M213.2 1100.7h0M264.8 1124.7h0M328.7 1175.3h0M274.4 1143.5h0M292.5 1187.8h0M246.6 1131.6h0M300.5 1131.8h0M307.4 1157.8h0M224.4 1132.8h0M210.6 1131.9h0M348.9 1194.3h0M225.4 1197.1h0M311.0 1200.2h0M349.0 1127.3h0M286.4 1207.3h0M282.3 1173.8h0M302.1 1171.4h0M215.8 1169.9h0M352.2 1093.8h0M253.5 1169.8h0M323.0 1202.0h0M226.2 1165.1h0M308.1 1116.3h0M339.6 1100.4h0M308.4 1112.0h0M281.0 1144.8h0M343.0 1111.5h0M257.6 1120.9h0" stroke="#dc4a16" stroke-width="2.6"/>
<path d="M289.3 1104.9h0M222.5 1145.5h0M235.4 1111.6h0M229.8 1157.0h0M366.2 1139.2h0M351.0 1121.8h0M218.5 1124.3h0M265.9 1145.5h0M284.4 1188.5h0M235.2 1185.8h0M224.8 1108.4h0M210.4 1185.5h0M256.1 1139.3h0M244.4 1167.6h0M260.7 1196.6h0M323.9 1113.6h0M349.3 1092.4h0M277.3 1133.3h0M213.1 1110.1h0M317.8 1126.5h0M325.2 1136.5h0M292.0 1187.6h0M320.7 1146.4h0M356.1 1114.5h0M259.2 1109.9h0M279.4 1180.8h0M326.2 1191.1h0M247.7 1153.0h0M303.3 1097.8h0M284.5 1172.9h0M357.4 1154.8h0M325.6 1165.4h0M316.6 1144.8h0M215.0 1179.7h0M246.3 1188.7h0M252.2 1096.7h0M341.0 1152.5h0M264.7 1136.0h0M255.6 1177.6h0M327.1 1153.6h0M327.4 1113.3h0M326.3 1150.7h0M272.1 1158.4h0M253.7 1172.9h0M301.2 1130.9h0M317.6 1166.0h0M280.3 1105.5h0M221.3 1194.6h0M302.8 1134.9h0M353.0 1187.0h0M216.0 1137.8h0M286.3 1167.8h0M311.9 1138.5h0M322.2 1174.7h0M287.4 1093.4h0M247.8 1128.4h0M235.9 1193.2h0" stroke="#dc4a16" stroke-width="1.4"/>
<path d="M360.3 1108.5h0M273.0 1146.1h0M321.7 1173.0h0M292.6 1132.3h0M222.1 1209.4h0M363.4 1139.1h0M366.1 1137.8h0M343.5 1188.4h0M213.6 1164.5h0M343.8 1151.2h0M232.9 1202.2h0M311.0 1148.9h0M353.0 1125.1h0M227.8 1135.1h0M228.8 1127.2h0M340.3 1143.8h0M250.6 1095.2h0M313.5 1102.9h0M265.6 1201.2h0M244.3 1203.3h0M273.6 1097.3h0M277.9 1092.5h0M361.0 1148.3h0M287.5 1165.9h0M283.9 1116.1h0M327.7 1135.1h0M255.5 1155.7h0M307.5 1161.8h0M334.2 1198.0h0M299.8 1152.8h0M259.3 1129.7h0M251.5 1110.4h0M283.6 1108.6h0M307.0 1119.0h0M254.5 1198.5h0M364.1 1166.6h0M365.1 1130.5h0M257.8 1138.5h0M323.2 1192.5h0M308.8 1131.7h0M284.7 1170.4h0M308.5 1098.9h0M303.0 1177.8h0M244.8 1131.9h0M338.1 1096.6h0M212.2 1113.7h0M351.7 1149.2h0M335.7 1120.2h0M235.5 1198.5h0M211.6 1186.8h0M279.4 1161.6h0M244.5 1123.5h0M282.7 1187.3h0M297.1 1140.2h0M213.1 1114.7h0M229.5 1098.3h0" stroke="#dc4a16" stroke-width="2.2"/>
<path d="M210.9 1138.4h0M305.3 1176.2h0M311.8 1179.9h0M356.5 1208.5h0M243.2 1110.9h0M309.0 1108.0h0M229.7 1105.1h0M232.0 1181.1h0M217.4 1198.0h0M302.0 1095.4h0M317.7 1096.6h0M234.5 1162.1h0M267.9 1182.8h0M331.3 1145.7h0M222.0 1101.5h0M261.9 1139.7h0M277.9 1121.1h0M255.1 1093.1h0M348.8 1182.5h0M349.9 1148.1h0M211.8 1138.0h0M241.3 1099.2h0M285.5 1175.2h0M287.2 1143.9h0M220.9 1179.2h0M223.1 1129.3h0M215.5 1156.0h0M320.3 1141.2h0M321.1 1137.8h0M239.1 1140.8h0M332.8 1103.8h0M321.0 1160.6h0M351.3 1139.1h0M297.3 1099.3h0M228.1 1096.0h0M251.9 1199.1h0M224.8 1094.0h0M261.6 1114.4h0M272.4 1191.6h0M212.9 1136.4h0M303.5 1178.7h0M320.8 1144.7h0M297.6 1174.1h0M349.9 1188.7h0M328.1 1119.6h0M238.1 1133.3h0M211.5 1166.1h0M290.7 1179.6h0M301.0 1155.4h0M329.7 1122.7h0M322.1 1169.8h0M290.3 1184.5h0M250.6 1179.9h0M247.1 1104.2h0M324.1 1105.5h0M360.8 1186.0h0M319.5 1196.6h0M224.0 1124.0h0M271.5 1202.9h0M238.8 1145.6h0" stroke="#dc4a16" stroke-width="3.0"/>
</g>
</g>
<rect x="344" y="1198.2" width="13" height="3.4" fill="#fff"/>
<g clip-path="url(#cd1)">
<rect x="87" y="1215.7" width="118.5" height="117.20000000000005" fill="url(#bgd1)"/>
<circle cx="149" cy="1273.2" r="60" fill="#d9d5d8" stroke="#c6bdc2" stroke-width="1.2"/>
<circle cx="149" cy="1273.2" r="56.35" fill="none" stroke="#e4e0e3" stroke-width="2.4" opacity="0.85"/>
<circle cx="149" cy="1273.2" r="51.900000000000006" fill="#c99b98"/>
<circle cx="149" cy="1273.2" r="50.7" fill="url(#dish1)"/>
<circle cx="149" cy="1273.2" r="50.400000000000006" fill="#d9483f" filter="url(#speck1)"/>
</g>
<g clip-path="url(#cm1)">
<rect x="210" y="1215.7" width="156.4" height="117.20000000000005" fill="#96682c"/>
<g clip-path="url(#cmp1_0)"><g transform="rotate(30 288 1274.3000000000002)"><rect x="150" y="1134.3000000000002" width="280" height="280" filter="url(#mic1)"/></g></g>
<g clip-path="url(#cmp1_1)"><g transform="rotate(-30 288 1274.3000000000002)"><rect x="150" y="1134.3000000000002" width="280" height="280" filter="url(#mic1)"/></g></g>
<g clip-path="url(#cmp1_2)"><g transform="rotate(-35 288 1274.3000000000002)"><rect x="150" y="1134.3000000000002" width="280" height="280" filter="url(#mic1)"/></g></g>
<g clip-path="url(#cmp1_3)"><g transform="rotate(-25 288 1274.3000000000002)"><rect x="150" y="1134.3000000000002" width="280" height="280" filter="url(#mic1)"/></g></g>
<g filter="url(#soft)" stroke-linecap="round" fill="none">
<path d="M300.9 1238.5h0M354.5 1270.4h0M235.2 1267.9h0M243.1 1292.1h0M211.0 1270.1h0M320.2 1216.8h0M345.8 1236.9h0M220.3 1283.2h0M315.7 1287.2h0M268.7 1222.7h0M282.9 1265.5h0M211.9 1289.9h0M309.8 1303.0h0M278.6 1221.8h0M215.6 1317.7h0M309.8 1296.7h0M350.2 1326.1h0M347.7 1228.0h0M356.2 1254.7h0M280.1 1282.6h0M230.1 1285.2h0M256.5 1242.8h0M345.5 1315.7h0M249.2 1267.9h0M270.4 1332.8h0M241.4 1317.5h0M335.2 1258.6h0M290.8 1249.1h0M305.5 1294.2h0M292.7 1249.4h0M286.4 1228.6h0M333.8 1322.6h0M223.4 1239.1h0M276.2 1260.3h0M315.7 1245.5h0M319.9 1222.2h0M344.5 1325.5h0M361.8 1299.6h0M350.0 1230.8h0M285.0 1280.8h0M260.0 1227.8h0M292.2 1307.2h0M313.9 1278.7h0M316.9 1307.2h0M359.6 1248.0h0M363.9 1290.6h0M357.6 1259.0h0M230.7 1323.4h0M329.4 1251.7h0M335.0 1281.5h0M362.9 1251.6h0M219.6 1259.6h0M338.7 1276.3h0M276.2 1258.7h0M285.7 1332.7h0M294.4 1251.7h0M274.2 1287.6h0M259.8 1307.1h0M264.0 1289.5h0M250.8 1286.3h0M214.2 1242.4h0M217.5 1332.7h0M225.1 1258.1h0M360.3 1303.6h0M226.4 1261.1h0M264.6 1244.5h0M327.9 1228.1h0M353.3 1262.3h0M210.3 1250.1h0M264.9 1307.8h0M336.4 1231.9h0M320.6 1274.6h0M287.9 1307.1h0M297.8 1246.5h0M283.8 1224.2h0M287.3 1311.1h0" stroke="#f59a38" stroke-opacity="0.65" stroke-width="5.2"/>
<path d="M243.6 1241.7h0M285.9 1307.5h0M267.3 1271.0h0M242.6 1266.1h0M316.4 1293.6h0M224.8 1308.9h0M273.3 1331.8h0M288.0 1318.4h0M359.7 1319.4h0M240.1 1295.3h0M224.2 1325.5h0M363.4 1321.3h0M281.8 1282.4h0M296.4 1278.4h0M212.9 1231.4h0M280.0 1293.6h0M229.9 1279.7h0M257.0 1251.0h0M212.1 1324.4h0M227.0 1216.4h0M312.6 1260.1h0M278.7 1324.2h0M261.5 1220.2h0M343.3 1260.7h0M292.8 1281.6h0M285.2 1222.7h0M336.0 1224.4h0M238.0 1216.2h0M248.5 1316.8h0M233.0 1324.2h0M259.9 1282.9h0M219.5 1298.9h0M333.4 1280.9h0M285.7 1233.3h0M333.9 1270.6h0M226.0 1299.0h0M277.9 1222.9h0M258.1 1247.7h0M220.9 1228.4h0M221.8 1234.5h0M357.6 1332.3h0M330.0 1244.1h0M333.3 1322.4h0M227.2 1266.9h0M261.5 1233.8h0M255.2 1310.8h0M274.7 1239.9h0M287.1 1332.7h0M213.1 1314.0h0M220.4 1228.1h0M366.2 1258.2h0M214.1 1266.4h0M300.7 1299.9h0M249.9 1315.8h0M290.2 1261.8h0M308.7 1328.9h0M364.7 1313.9h0M308.8 1271.8h0M341.0 1291.2h0M262.4 1328.2h0M290.5 1309.0h0M357.1 1328.1h0M224.8 1236.0h0M354.3 1237.6h0M305.4 1261.2h0M262.3 1256.7h0M269.4 1306.9h0M276.3 1311.5h0M260.2 1318.3h0M330.2 1296.4h0M340.0 1313.2h0M341.1 1311.5h0M289.9 1229.6h0M244.3 1310.9h0M357.7 1266.2h0M324.4 1257.4h0M288.8 1273.4h0M286.4 1295.1h0" stroke="#f59a38" stroke-opacity="0.65" stroke-width="4.4"/>
<path d="M361.9 1223.9h0M238.3 1223.4h0M350.2 1282.4h0M336.6 1308.5h0M317.3 1324.0h0M248.2 1248.6h0M247.3 1247.7h0M290.3 1289.1h0M362.4 1303.8h0M363.5 1301.7h0M236.9 1323.1h0M280.2 1220.1h0M350.4 1270.7h0M328.5 1304.3h0M280.9 1251.1h0M218.9 1216.0h0M252.2 1329.5h0M307.9 1288.7h0M267.1 1272.0h0M235.7 1224.7h0M212.0 1245.6h0M292.8 1283.9h0M240.2 1221.7h0M339.3 1229.7h0M285.4 1329.4h0M215.9 1247.0h0M362.6 1234.2h0M292.5 1312.3h0M347.1 1217.1h0M306.2 1296.2h0M237.0 1273.8h0M244.9 1309.3h0M341.9 1239.4h0M318.2 1219.0h0M254.2 1282.4h0M275.1 1275.3h0M268.0 1312.4h0M275.5 1233.8h0M262.5 1330.6h0M340.5 1300.3h0M348.2 1239.7h0M285.6 1301.2h0M233.3 1292.1h0M296.0 1298.7h0M226.5 1268.5h0M321.8 1230.9h0M217.5 1240.7h0M228.9 1223.7h0M337.2 1283.4h0M295.6 1311.3h0M265.5 1245.4h0M355.6 1326.8h0M249.2 1324.1h0M282.2 1301.5h0M238.4 1273.9h0M355.6 1264.0h0M309.2 1296.3h0M298.7 1295.8h0M352.6 1242.0h0M326.1 1241.8h0M221.4 1257.9h0M341.1 1271.8h0M307.5 1221.1h0M365.6 1235.6h0M303.1 1302.5h0M288.4 1271.7h0M312.9 1234.5h0M349.3 1241.5h0M311.3 1329.8h0M250.8 1244.6h0M277.9 1316.0h0M305.0 1256.6h0M282.7 1332.7h0M256.2 1287.5h0M212.6 1258.3h0M267.9 1217.8h0M301.7 1267.6h0M262.1 1229.9h0M288.2 1314.3h0M285.0 1273.3h0M327.1 1233.6h0" stroke="#f59a38" stroke-opacity="0.65" stroke-width="4.0"/>
<path d="M247.4 1308.4h0M271.7 1260.2h0M222.0 1303.0h0M338.2 1331.2h0M325.5 1320.3h0M316.2 1320.5h0M247.6 1266.7h0M217.8 1332.1h0M321.1 1327.1h0M330.4 1327.6h0M233.0 1299.3h0M351.4 1283.3h0M304.2 1332.2h0M256.5 1243.3h0M319.0 1243.8h0M273.8 1285.8h0M292.2 1219.6h0M267.8 1308.6h0M353.4 1237.5h0M317.0 1249.0h0M231.6 1235.0h0M327.6 1273.1h0M330.5 1302.8h0M366.0 1222.9h0M252.5 1256.2h0M289.7 1328.0h0M232.0 1234.3h0M365.5 1316.9h0M264.8 1319.6h0M359.7 1276.2h0M242.8 1228.0h0M350.9 1309.8h0M306.7 1274.5h0M272.7 1320.6h0M321.9 1255.0h0M254.1 1303.5h0M273.4 1294.2h0M329.7 1275.9h0M237.9 1286.7h0M329.8 1228.9h0M260.2 1233.0h0M335.3 1220.1h0M333.0 1330.0h0M220.6 1273.2h0M248.3 1331.3h0M295.3 1303.2h0M342.1 1279.4h0M324.6 1242.3h0M280.7 1299.0h0M347.2 1245.5h0M299.5 1306.9h0M285.7 1264.6h0M353.1 1311.9h0M364.2 1239.3h0M293.0 1282.0h0M280.5 1313.3h0M326.2 1306.3h0M321.6 1256.0h0M290.2 1237.2h0M316.1 1245.8h0M312.7 1311.8h0M255.6 1289.3h0M228.8 1261.5h0M292.1 1317.6h0M306.8 1245.1h0M262.7 1221.5h0M253.4 1285.3h0M299.9 1293.5h0M348.2 1253.7h0M220.3 1220.3h0" stroke="#f59a38" stroke-opacity="0.65" stroke-width="4.8"/>
<path d="M316.9 1216.4h0M358.0 1318.3h0M362.5 1329.2h0M317.8 1256.8h0M220.4 1233.1h0M232.8 1229.9h0M362.5 1288.2h0M326.9 1316.2h0M334.8 1255.4h0M243.9 1309.0h0M352.0 1228.6h0M327.9 1297.7h0M255.1 1277.9h0M306.5 1330.5h0M313.4 1259.2h0M286.5 1261.6h0M217.3 1277.9h0M225.8 1305.0h0M329.3 1322.5h0M268.6 1313.5h0M296.4 1301.4h0M321.6 1217.0h0M332.4 1235.9h0M258.4 1267.4h0M275.7 1267.1h0M318.8 1256.5h0M261.2 1223.8h0M329.1 1307.4h0M362.4 1318.4h0M212.8 1241.6h0M272.4 1269.6h0M295.6 1306.2h0M326.2 1316.0h0M264.7 1286.9h0M313.6 1300.4h0M305.9 1309.9h0M262.2 1272.3h0M287.3 1281.0h0M221.6 1216.9h0M309.2 1289.2h0M276.5 1302.5h0M249.4 1305.6h0M354.7 1265.4h0M321.9 1282.9h0M274.2 1272.9h0M289.5 1310.5h0M322.0 1278.0h0M354.9 1229.4h0M260.8 1239.0h0M232.8 1290.3h0M275.6 1243.1h0M308.5 1268.1h0M265.2 1258.1h0M274.7 1216.9h0M353.3 1322.0h0M335.2 1312.0h0M318.2 1221.1h0M338.3 1305.0h0M245.6 1330.0h0M238.2 1244.0h0M333.5 1275.4h0M255.0 1257.2h0M331.5 1242.7h0M224.0 1303.3h0M289.0 1293.1h0M219.6 1306.4h0M261.1 1316.3h0M282.6 1319.5h0M346.1 1326.6h0M350.2 1299.3h0M232.7 1216.8h0M329.8 1258.8h0M222.0 1266.4h0M273.2 1221.4h0M223.2 1266.8h0" stroke="#f59a38" stroke-opacity="0.65" stroke-width="3.6"/>
<path d="M300.9 1238.5h0M354.5 1270.4h0M235.2 1267.9h0M243.1 1292.1h0M211.0 1270.1h0M320.2 1216.8h0M345.8 1236.9h0M220.3 1283.2h0M315.7 1287.2h0M268.7 1222.7h0M282.9 1265.5h0M211.9 1289.9h0M309.8 1303.0h0M278.6 1221.8h0M215.6 1317.7h0M309.8 1296.7h0M350.2 1326.1h0M347.7 1228.0h0M356.2 1254.7h0M280.1 1282.6h0M230.1 1285.2h0M256.5 1242.8h0M345.5 1315.7h0M249.2 1267.9h0M270.4 1332.8h0M241.4 1317.5h0M335.2 1258.6h0M290.8 1249.1h0M305.5 1294.2h0M292.7 1249.4h0M286.4 1228.6h0M333.8 1322.6h0M223.4 1239.1h0M276.2 1260.3h0M315.7 1245.5h0M319.9 1222.2h0M344.5 1325.5h0M361.8 1299.6h0M350.0 1230.8h0M285.0 1280.8h0M260.0 1227.8h0M292.2 1307.2h0M313.9 1278.7h0M316.9 1307.2h0M359.6 1248.0h0M363.9 1290.6h0M357.6 1259.0h0M230.7 1323.4h0M329.4 1251.7h0M335.0 1281.5h0M362.9 1251.6h0M219.6 1259.6h0M338.7 1276.3h0M276.2 1258.7h0M285.7 1332.7h0M294.4 1251.7h0M274.2 1287.6h0M259.8 1307.1h0M264.0 1289.5h0M250.8 1286.3h0M214.2 1242.4h0M217.5 1332.7h0M225.1 1258.1h0M360.3 1303.6h0M226.4 1261.1h0M264.6 1244.5h0M327.9 1228.1h0M353.3 1262.3h0M210.3 1250.1h0M264.9 1307.8h0M336.4 1231.9h0M320.6 1274.6h0M287.9 1307.1h0M297.8 1246.5h0M283.8 1224.2h0M287.3 1311.1h0" stroke="#dc4a16" stroke-width="3.0"/>
<path d="M243.6 1241.7h0M285.9 1307.5h0M267.3 1271.0h0M242.6 1266.1h0M316.4 1293.6h0M224.8 1308.9h0M273.3 1331.8h0M288.0 1318.4h0M359.7 1319.4h0M240.1 1295.3h0M224.2 1325.5h0M363.4 1321.3h0M281.8 1282.4h0M296.4 1278.4h0M212.9 1231.4h0M280.0 1293.6h0M229.9 1279.7h0M257.0 1251.0h0M212.1 1324.4h0M227.0 1216.4h0M312.6 1260.1h0M278.7 1324.2h0M261.5 1220.2h0M343.3 1260.7h0M292.8 1281.6h0M285.2 1222.7h0M336.0 1224.4h0M238.0 1216.2h0M248.5 1316.8h0M233.0 1324.2h0M259.9 1282.9h0M219.5 1298.9h0M333.4 1280.9h0M285.7 1233.3h0M333.9 1270.6h0M226.0 1299.0h0M277.9 1222.9h0M258.1 1247.7h0M220.9 1228.4h0M221.8 1234.5h0M357.6 1332.3h0M330.0 1244.1h0M333.3 1322.4h0M227.2 1266.9h0M261.5 1233.8h0M255.2 1310.8h0M274.7 1239.9h0M287.1 1332.7h0M213.1 1314.0h0M220.4 1228.1h0M366.2 1258.2h0M214.1 1266.4h0M300.7 1299.9h0M249.9 1315.8h0M290.2 1261.8h0M308.7 1328.9h0M364.7 1313.9h0M308.8 1271.8h0M341.0 1291.2h0M262.4 1328.2h0M290.5 1309.0h0M357.1 1328.1h0M224.8 1236.0h0M354.3 1237.6h0M305.4 1261.2h0M262.3 1256.7h0M269.4 1306.9h0M276.3 1311.5h0M260.2 1318.3h0M330.2 1296.4h0M340.0 1313.2h0M341.1 1311.5h0M289.9 1229.6h0M244.3 1310.9h0M357.7 1266.2h0M324.4 1257.4h0M288.8 1273.4h0M286.4 1295.1h0" stroke="#dc4a16" stroke-width="2.2"/>
<path d="M361.9 1223.9h0M238.3 1223.4h0M350.2 1282.4h0M336.6 1308.5h0M317.3 1324.0h0M248.2 1248.6h0M247.3 1247.7h0M290.3 1289.1h0M362.4 1303.8h0M363.5 1301.7h0M236.9 1323.1h0M280.2 1220.1h0M350.4 1270.7h0M328.5 1304.3h0M280.9 1251.1h0M218.9 1216.0h0M252.2 1329.5h0M307.9 1288.7h0M267.1 1272.0h0M235.7 1224.7h0M212.0 1245.6h0M292.8 1283.9h0M240.2 1221.7h0M339.3 1229.7h0M285.4 1329.4h0M215.9 1247.0h0M362.6 1234.2h0M292.5 1312.3h0M347.1 1217.1h0M306.2 1296.2h0M237.0 1273.8h0M244.9 1309.3h0M341.9 1239.4h0M318.2 1219.0h0M254.2 1282.4h0M275.1 1275.3h0M268.0 1312.4h0M275.5 1233.8h0M262.5 1330.6h0M340.5 1300.3h0M348.2 1239.7h0M285.6 1301.2h0M233.3 1292.1h0M296.0 1298.7h0M226.5 1268.5h0M321.8 1230.9h0M217.5 1240.7h0M228.9 1223.7h0M337.2 1283.4h0M295.6 1311.3h0M265.5 1245.4h0M355.6 1326.8h0M249.2 1324.1h0M282.2 1301.5h0M238.4 1273.9h0M355.6 1264.0h0M309.2 1296.3h0M298.7 1295.8h0M352.6 1242.0h0M326.1 1241.8h0M221.4 1257.9h0M341.1 1271.8h0M307.5 1221.1h0M365.6 1235.6h0M303.1 1302.5h0M288.4 1271.7h0M312.9 1234.5h0M349.3 1241.5h0M311.3 1329.8h0M250.8 1244.6h0M277.9 1316.0h0M305.0 1256.6h0M282.7 1332.7h0M256.2 1287.5h0M212.6 1258.3h0M267.9 1217.8h0M301.7 1267.6h0M262.1 1229.9h0M288.2 1314.3h0M285.0 1273.3h0M327.1 1233.6h0" stroke="#dc4a16" stroke-width="1.8"/>
<path d="M247.4 1308.4h0M271.7 1260.2h0M222.0 1303.0h0M338.2 1331.2h0M325.5 1320.3h0M316.2 1320.5h0M247.6 1266.7h0M217.8 1332.1h0M321.1 1327.1h0M330.4 1327.6h0M233.0 1299.3h0M351.4 1283.3h0M304.2 1332.2h0M256.5 1243.3h0M319.0 1243.8h0M273.8 1285.8h0M292.2 1219.6h0M267.8 1308.6h0M353.4 1237.5h0M317.0 1249.0h0M231.6 1235.0h0M327.6 1273.1h0M330.5 1302.8h0M366.0 1222.9h0M252.5 1256.2h0M289.7 1328.0h0M232.0 1234.3h0M365.5 1316.9h0M264.8 1319.6h0M359.7 1276.2h0M242.8 1228.0h0M350.9 1309.8h0M306.7 1274.5h0M272.7 1320.6h0M321.9 1255.0h0M254.1 1303.5h0M273.4 1294.2h0M329.7 1275.9h0M237.9 1286.7h0M329.8 1228.9h0M260.2 1233.0h0M335.3 1220.1h0M333.0 1330.0h0M220.6 1273.2h0M248.3 1331.3h0M295.3 1303.2h0M342.1 1279.4h0M324.6 1242.3h0M280.7 1299.0h0M347.2 1245.5h0M299.5 1306.9h0M285.7 1264.6h0M353.1 1311.9h0M364.2 1239.3h0M293.0 1282.0h0M280.5 1313.3h0M326.2 1306.3h0M321.6 1256.0h0M290.2 1237.2h0M316.1 1245.8h0M312.7 1311.8h0M255.6 1289.3h0M228.8 1261.5h0M292.1 1317.6h0M306.8 1245.1h0M262.7 1221.5h0M253.4 1285.3h0M299.9 1293.5h0M348.2 1253.7h0M220.3 1220.3h0" stroke="#dc4a16" stroke-width="2.6"/>
<path d="M316.9 1216.4h0M358.0 1318.3h0M362.5 1329.2h0M317.8 1256.8h0M220.4 1233.1h0M232.8 1229.9h0M362.5 1288.2h0M326.9 1316.2h0M334.8 1255.4h0M243.9 1309.0h0M352.0 1228.6h0M327.9 1297.7h0M255.1 1277.9h0M306.5 1330.5h0M313.4 1259.2h0M286.5 1261.6h0M217.3 1277.9h0M225.8 1305.0h0M329.3 1322.5h0M268.6 1313.5h0M296.4 1301.4h0M321.6 1217.0h0M332.4 1235.9h0M258.4 1267.4h0M275.7 1267.1h0M318.8 1256.5h0M261.2 1223.8h0M329.1 1307.4h0M362.4 1318.4h0M212.8 1241.6h0M272.4 1269.6h0M295.6 1306.2h0M326.2 1316.0h0M264.7 1286.9h0M313.6 1300.4h0M305.9 1309.9h0M262.2 1272.3h0M287.3 1281.0h0M221.6 1216.9h0M309.2 1289.2h0M276.5 1302.5h0M249.4 1305.6h0M354.7 1265.4h0M321.9 1282.9h0M274.2 1272.9h0M289.5 1310.5h0M322.0 1278.0h0M354.9 1229.4h0M260.8 1239.0h0M232.8 1290.3h0M275.6 1243.1h0M308.5 1268.1h0M265.2 1258.1h0M274.7 1216.9h0M353.3 1322.0h0M335.2 1312.0h0M318.2 1221.1h0M338.3 1305.0h0M245.6 1330.0h0M238.2 1244.0h0M333.5 1275.4h0M255.0 1257.2h0M331.5 1242.7h0M224.0 1303.3h0M289.0 1293.1h0M219.6 1306.4h0M261.1 1316.3h0M282.6 1319.5h0M346.1 1326.6h0M350.2 1299.3h0M232.7 1216.8h0M329.8 1258.8h0M222.0 1266.4h0M273.2 1221.4h0M223.2 1266.8h0" stroke="#dc4a16" stroke-width="1.4"/>
</g>
</g>
<rect x="344" y="1321.7" width="13" height="3.4" fill="#fff"/>
<g clip-path="url(#cd2)">
<rect x="87" y="1339.7" width="118.5" height="117.09999999999991" fill="url(#bgd2)"/>
<circle cx="146.5" cy="1401.3" r="59" fill="#cdcacd" stroke="#b6afb3" stroke-width="1.2"/>
<circle cx="146.5" cy="1401.3" r="55.0" fill="none" stroke="#dddbde" stroke-width="2.4" opacity="0.85"/>
<circle cx="146.5" cy="1401.3" r="50.2" fill="#bda4a3"/>
<circle cx="146.5" cy="1401.3" r="49" fill="url(#dish2)"/>
<circle cx="146.5" cy="1401.3" r="48.7" fill="#d9483f" filter="url(#speck2)"/>
<circle cx="118" cy="1369.3" r="1.2" fill="#e03a2c"/>
<circle cx="120.5" cy="1369.8" r="1.2" fill="#e03a2c"/>
<circle cx="139.5" cy="1380" r="1.0" fill="#e0665c"/>
</g>
<g clip-path="url(#cm2)">
<rect x="210" y="1339.7" width="156.4" height="117.09999999999991" fill="#96682c"/>
<g clip-path="url(#cmp2_0)"><g transform="rotate(-60 288 1398.25)"><rect x="150" y="1258.25" width="280" height="280" filter="url(#mic2)"/></g></g>
<g clip-path="url(#cmp2_1)"><g transform="rotate(-25 288 1398.25)"><rect x="150" y="1258.25" width="280" height="280" filter="url(#mic2)"/></g></g>
<g clip-path="url(#cmp2_2)"><g transform="rotate(-50 288 1398.25)"><rect x="150" y="1258.25" width="280" height="280" filter="url(#mic2)"/></g></g>
<g clip-path="url(#cmp2_3)"><g transform="rotate(35 288 1398.25)"><rect x="150" y="1258.25" width="280" height="280" filter="url(#mic2)"/></g></g>
<g filter="url(#soft)" stroke-linecap="round" fill="none">
<path d="M233.2 1411.8h0M296.7 1417.1h0M306.9 1400.5h0M325.0 1383.9h0M308.6 1418.2h0M277.4 1386.4h0M266.8 1348.1h0M316.9 1385.5h0M323.6 1388.3h0M243.3 1392.1h0M244.5 1388.3h0M222.6 1385.3h0M274.8 1368.2h0M317.3 1437.3h0M299.4 1363.9h0M244.2 1415.7h0M317.9 1358.8h0M345.6 1346.8h0M314.7 1447.4h0M233.6 1456.7h0M220.4 1428.5h0M285.2 1407.5h0M283.7 1371.7h0M327.4 1415.7h0M353.8 1430.7h0M247.6 1396.3h0M363.5 1450.9h0M326.4 1435.1h0M255.3 1399.9h0M242.3 1342.5h0M248.3 1408.2h0M289.7 1414.1h0M261.9 1439.0h0M255.4 1415.7h0M310.9 1380.0h0M275.9 1382.0h0M345.3 1431.6h0M275.3 1455.1h0M327.9 1364.0h0M338.1 1388.4h0M323.0 1421.3h0M339.4 1411.5h0M246.3 1397.2h0" stroke="#f59a38" stroke-opacity="0.65" stroke-width="4.0"/>
<path d="M270.1 1412.0h0M300.9 1424.5h0M350.5 1437.8h0M317.5 1399.4h0M308.8 1390.4h0M309.9 1402.5h0M303.9 1446.8h0M250.8 1454.4h0M360.0 1343.3h0M310.9 1353.0h0M295.1 1367.5h0M303.2 1386.8h0M323.7 1397.1h0M350.2 1398.7h0M288.6 1349.3h0M326.0 1380.3h0M282.3 1438.7h0M339.7 1377.9h0M350.8 1427.4h0M291.6 1358.4h0M331.8 1395.6h0M281.4 1383.6h0M262.5 1355.0h0M218.6 1451.3h0" stroke="#f59a38" stroke-opacity="0.65" stroke-width="5.2"/>
<path d="M289.8 1349.6h0M357.7 1359.8h0M303.9 1402.0h0M228.1 1430.6h0M320.3 1452.1h0M316.6 1432.6h0M360.0 1404.5h0M333.7 1421.2h0M264.3 1402.6h0M292.8 1453.5h0M338.5 1435.6h0M246.5 1451.6h0M254.3 1409.5h0M351.7 1438.6h0M268.4 1343.9h0M335.8 1447.7h0M221.6 1427.2h0M242.3 1373.6h0" stroke="#f59a38" stroke-opacity="0.65" stroke-width="3.6"/>
<path d="M317.9 1411.1h0M292.2 1397.2h0M305.6 1436.7h0M339.0 1414.6h0M292.5 1386.4h0M331.8 1401.0h0M275.3 1376.9h0M213.5 1361.7h0M250.5 1449.9h0M314.7 1429.2h0M231.8 1369.5h0M280.6 1410.2h0M295.0 1394.6h0M345.6 1386.2h0M231.0 1379.4h0M253.0 1370.2h0M303.2 1429.9h0M365.4 1341.9h0M354.6 1452.8h0M219.4 1362.8h0M363.0 1453.6h0M211.5 1402.5h0M247.2 1388.9h0M354.0 1452.2h0M332.8 1349.5h0M211.8 1439.9h0M240.0 1384.8h0M355.6 1384.3h0M232.1 1449.6h0M255.0 1402.3h0M295.4 1356.8h0" stroke="#f59a38" stroke-opacity="0.65" stroke-width="4.8"/>
<path d="M306.2 1452.7h0M235.4 1437.7h0M284.3 1437.7h0M325.9 1348.4h0M271.5 1344.4h0M214.0 1352.9h0M249.7 1361.1h0M342.1 1413.9h0M344.2 1444.1h0M349.6 1426.0h0M364.0 1448.1h0M252.2 1361.8h0M271.0 1351.7h0M330.4 1378.3h0" stroke="#f59a38" stroke-opacity="0.65" stroke-width="4.4"/>
<path d="M233.2 1411.8h0M296.7 1417.1h0M306.9 1400.5h0M325.0 1383.9h0M308.6 1418.2h0M277.4 1386.4h0M266.8 1348.1h0M316.9 1385.5h0M323.6 1388.3h0M243.3 1392.1h0M244.5 1388.3h0M222.6 1385.3h0M274.8 1368.2h0M317.3 1437.3h0M299.4 1363.9h0M244.2 1415.7h0M317.9 1358.8h0M345.6 1346.8h0M314.7 1447.4h0M233.6 1456.7h0M220.4 1428.5h0M285.2 1407.5h0M283.7 1371.7h0M327.4 1415.7h0M353.8 1430.7h0M247.6 1396.3h0M363.5 1450.9h0M326.4 1435.1h0M255.3 1399.9h0M242.3 1342.5h0M248.3 1408.2h0M289.7 1414.1h0M261.9 1439.0h0M255.4 1415.7h0M310.9 1380.0h0M275.9 1382.0h0M345.3 1431.6h0M275.3 1455.1h0M327.9 1364.0h0M338.1 1388.4h0M323.0 1421.3h0M339.4 1411.5h0M246.3 1397.2h0" stroke="#dc4a16" stroke-width="1.8"/>
<path d="M270.1 1412.0h0M300.9 1424.5h0M350.5 1437.8h0M317.5 1399.4h0M308.8 1390.4h0M309.9 1402.5h0M303.9 1446.8h0M250.8 1454.4h0M360.0 1343.3h0M310.9 1353.0h0M295.1 1367.5h0M303.2 1386.8h0M323.7 1397.1h0M350.2 1398.7h0M288.6 1349.3h0M326.0 1380.3h0M282.3 1438.7h0M339.7 1377.9h0M350.8 1427.4h0M291.6 1358.4h0M331.8 1395.6h0M281.4 1383.6h0M262.5 1355.0h0M218.6 1451.3h0" stroke="#dc4a16" stroke-width="3.0"/>
<path d="M289.8 1349.6h0M357.7 1359.8h0M303.9 1402.0h0M228.1 1430.6h0M320.3 1452.1h0M316.6 1432.6h0M360.0 1404.5h0M333.7 1421.2h0M264.3 1402.6h0M292.8 1453.5h0M338.5 1435.6h0M246.5 1451.6h0M254.3 1409.5h0M351.7 1438.6h0M268.4 1343.9h0M335.8 1447.7h0M221.6 1427.2h0M242.3 1373.6h0" stroke="#dc4a16" stroke-width="1.4"/>
<path d="M317.9 1411.1h0M292.2 1397.2h0M305.6 1436.7h0M339.0 1414.6h0M292.5 1386.4h0M331.8 1401.0h0M275.3 1376.9h0M213.5 1361.7h0M250.5 1449.9h0M314.7 1429.2h0M231.8 1369.5h0M280.6 1410.2h0M295.0 1394.6h0M345.6 1386.2h0M231.0 1379.4h0M253.0 1370.2h0M303.2 1429.9h0M365.4 1341.9h0M354.6 1452.8h0M219.4 1362.8h0M363.0 1453.6h0M211.5 1402.5h0M247.2 1388.9h0M354.0 1452.2h0M332.8 1349.5h0M211.8 1439.9h0M240.0 1384.8h0M355.6 1384.3h0M232.1 1449.6h0M255.0 1402.3h0M295.4 1356.8h0" stroke="#dc4a16" stroke-width="2.6"/>
<path d="M306.2 1452.7h0M235.4 1437.7h0M284.3 1437.7h0M325.9 1348.4h0M271.5 1344.4h0M214.0 1352.9h0M249.7 1361.1h0M342.1 1413.9h0M344.2 1444.1h0M349.6 1426.0h0M364.0 1448.1h0M252.2 1361.8h0M271.0 1351.7h0M330.4 1378.3h0" stroke="#dc4a16" stroke-width="2.2"/>
</g>
</g>
<rect x="344" y="1445.6" width="13" height="3.4" fill="#fff"/>
<g clip-path="url(#cd3)">
<rect x="87" y="1463.7" width="118.5" height="118.09999999999991" fill="url(#bgd3)"/>
<circle cx="148" cy="1524.6" r="60" fill="#dcd6d9" stroke="#cac0c5" stroke-width="1.2"/>
<circle cx="148" cy="1524.6" r="56.1" fill="none" stroke="#e6e2e4" stroke-width="2.4" opacity="0.85"/>
<circle cx="148" cy="1524.6" r="51.400000000000006" fill="#caa09d"/>
<circle cx="148" cy="1524.6" r="50.2" fill="url(#dish3)"/>
<circle cx="148" cy="1524.6" r="49.900000000000006" fill="#d9483f" filter="url(#speck3)"/>
</g>
<g clip-path="url(#cm3)">
<rect x="210" y="1463.7" width="156.4" height="118.09999999999991" fill="#96682c"/>
<g clip-path="url(#cmp3_0)"><g transform="rotate(40 288 1522.75)"><rect x="150" y="1382.75" width="280" height="280" filter="url(#mic3)"/></g></g>
<g clip-path="url(#cmp3_1)"><g transform="rotate(-35 288 1522.75)"><rect x="150" y="1382.75" width="280" height="280" filter="url(#mic3)"/></g></g>
<g clip-path="url(#cmp3_2)"><g transform="rotate(-30 288 1522.75)"><rect x="150" y="1382.75" width="280" height="280" filter="url(#mic3)"/></g></g>
<g clip-path="url(#cmp3_3)"><g transform="rotate(-45 288 1522.75)"><rect x="150" y="1382.75" width="280" height="280" filter="url(#mic3)"/></g></g>
<g filter="url(#soft)" stroke-linecap="round" fill="none">
<path d="M363.1 1517.6h0M216.9 1577.3h0M247.5 1491.8h0M306.2 1479.9h0M283.1 1533.4h0M286.1 1479.6h0M339.3 1573.0h0M319.7 1521.6h0M341.1 1581.5h0M338.0 1495.5h0M240.9 1499.3h0M243.4 1498.2h0M278.2 1503.6h0M304.3 1494.9h0M299.5 1501.4h0M280.8 1540.9h0M343.5 1499.6h0M288.6 1484.7h0M327.2 1511.5h0M346.0 1571.0h0M319.7 1510.6h0M342.6 1574.8h0M268.1 1538.8h0M220.8 1562.8h0M358.1 1549.1h0M226.5 1528.5h0M276.2 1472.6h0M287.6 1538.7h0M215.0 1580.0h0M237.0 1558.7h0M244.2 1540.5h0M226.1 1578.0h0M288.9 1569.4h0M216.9 1480.2h0M298.7 1517.2h0M280.0 1472.9h0M284.0 1499.1h0M216.6 1501.7h0M326.7 1540.2h0M351.5 1510.0h0M228.7 1536.8h0M219.0 1468.0h0M252.8 1571.0h0M233.3 1545.5h0M234.2 1545.4h0M253.9 1471.2h0M298.9 1530.5h0M330.1 1542.6h0M334.6 1499.3h0M219.4 1542.3h0M270.1 1507.7h0M328.0 1488.4h0M264.2 1491.9h0M233.6 1487.0h0M332.1 1549.7h0" stroke="#f59a38" stroke-opacity="0.65" stroke-width="4.0"/>
<path d="M317.8 1571.5h0M346.4 1477.7h0M230.7 1532.6h0M240.2 1525.5h0M353.8 1475.1h0M257.8 1542.6h0M364.3 1530.2h0M338.1 1516.2h0M223.2 1542.8h0M264.0 1502.9h0M211.4 1521.3h0M282.2 1543.7h0M332.3 1528.7h0M292.8 1565.3h0M318.4 1493.6h0M261.4 1478.5h0M319.6 1539.4h0M312.9 1468.8h0M226.7 1507.2h0M321.2 1491.3h0M241.2 1492.1h0M283.6 1480.0h0M312.1 1531.2h0M253.0 1549.7h0M257.1 1545.5h0M360.7 1545.5h0M246.5 1569.1h0M347.5 1561.8h0M289.5 1555.0h0M362.5 1471.1h0M218.9 1513.6h0M341.2 1553.3h0M291.3 1528.0h0M228.9 1527.8h0M257.3 1575.4h0M234.8 1547.0h0M232.6 1567.5h0M332.6 1484.8h0M251.0 1482.6h0M230.7 1470.9h0M334.2 1544.7h0M337.8 1543.7h0M320.9 1567.7h0M214.2 1545.7h0M333.7 1519.9h0M222.8 1463.9h0M363.8 1472.6h0M222.4 1571.5h0M363.6 1484.6h0M220.7 1477.5h0M353.7 1563.7h0M352.9 1522.2h0M212.6 1552.5h0M334.1 1481.8h0M266.6 1563.2h0M321.4 1467.6h0M214.1 1516.7h0M358.7 1536.5h0M314.6 1472.6h0M299.0 1546.8h0M301.8 1528.3h0M259.9 1483.7h0M305.5 1566.7h0M312.0 1507.9h0M301.0 1482.0h0M346.9 1559.8h0M301.3 1524.7h0M232.5 1473.6h0M309.8 1524.4h0M243.6 1581.2h0M319.8 1580.5h0M224.9 1514.0h0" stroke="#f59a38" stroke-opacity="0.65" stroke-width="3.6"/>
<path d="M312.3 1518.2h0M284.2 1493.3h0M237.6 1555.7h0M232.7 1467.9h0M353.8 1485.2h0M339.0 1554.8h0M327.5 1558.8h0M357.6 1476.4h0M272.6 1547.5h0M278.8 1501.9h0M272.5 1476.7h0M234.6 1550.3h0M274.4 1578.9h0M356.7 1514.0h0M266.4 1466.0h0M336.9 1558.8h0M353.3 1555.5h0M279.8 1557.0h0M217.5 1478.1h0M293.7 1510.8h0M302.8 1556.0h0M281.6 1470.3h0M226.0 1545.4h0M220.2 1534.4h0M235.2 1538.9h0M337.4 1537.7h0M242.8 1577.5h0M294.5 1506.5h0M360.5 1499.7h0M335.5 1511.8h0M218.2 1536.4h0M292.6 1564.2h0M328.6 1508.1h0M213.6 1474.6h0M217.3 1499.8h0M306.9 1488.6h0M339.2 1493.8h0M258.0 1539.3h0M304.8 1557.2h0M250.8 1466.0h0M254.4 1479.7h0M318.3 1530.6h0M307.7 1534.0h0M313.2 1535.5h0M266.0 1498.9h0M352.9 1490.3h0M313.4 1553.8h0M322.3 1494.0h0M225.7 1515.4h0M231.8 1531.7h0M357.0 1518.1h0M316.4 1469.7h0M326.0 1499.4h0M232.6 1490.3h0M236.2 1483.4h0M237.6 1543.7h0M272.3 1554.6h0M332.9 1495.1h0M298.3 1496.0h0M302.8 1540.8h0M219.3 1500.6h0M354.9 1554.8h0M322.6 1505.0h0M301.6 1546.2h0M311.8 1518.6h0M335.9 1519.0h0M321.3 1559.4h0M327.1 1498.6h0M295.6 1488.7h0M289.3 1466.7h0M363.2 1507.2h0" stroke="#f59a38" stroke-opacity="0.65" stroke-width="4.4"/>
<path d="M305.0 1498.4h0M344.7 1532.3h0M285.3 1480.9h0M290.2 1572.3h0M284.7 1537.0h0M224.8 1517.6h0M309.8 1541.8h0M342.1 1537.1h0M308.0 1482.9h0M215.3 1559.2h0M261.3 1557.5h0M232.1 1517.8h0M331.5 1498.8h0M254.5 1573.6h0M247.5 1498.0h0M311.6 1500.8h0M313.5 1525.6h0M307.9 1536.5h0M237.9 1580.4h0M211.8 1491.8h0M343.8 1469.8h0M308.6 1511.3h0M267.8 1531.9h0M357.6 1481.9h0M282.5 1573.9h0M346.0 1555.0h0M316.5 1576.8h0M234.9 1533.1h0M338.4 1536.7h0M289.9 1494.0h0M253.1 1522.5h0M299.5 1573.9h0M282.7 1493.8h0M325.3 1513.1h0M342.5 1539.6h0M349.2 1565.1h0M334.8 1569.0h0M294.0 1485.0h0M314.2 1539.6h0M317.4 1524.5h0M291.0 1496.0h0M333.7 1579.5h0M258.1 1511.3h0M290.6 1503.0h0M294.6 1529.1h0M253.6 1534.2h0M266.4 1472.0h0M263.3 1578.9h0M297.3 1530.9h0M342.1 1466.2h0M228.8 1513.7h0M321.5 1544.1h0M360.9 1559.5h0M348.6 1527.8h0M281.4 1473.7h0M271.9 1522.5h0M268.9 1571.8h0M356.8 1577.1h0M309.4 1511.0h0M355.4 1466.2h0M294.7 1523.1h0M222.7 1561.4h0M309.6 1481.3h0M328.0 1532.7h0M232.7 1567.9h0M357.8 1516.9h0M286.4 1501.9h0M312.1 1522.6h0M324.3 1538.3h0M335.7 1533.7h0M350.3 1580.6h0M267.5 1504.9h0M313.0 1571.0h0M335.0 1531.5h0M275.3 1511.8h0" stroke="#f59a38" stroke-opacity="0.65" stroke-width="4.8"/>
<path d="M245.4 1541.3h0M248.9 1507.3h0M244.2 1545.6h0M351.8 1553.2h0M348.7 1569.3h0M320.8 1498.2h0M311.2 1566.8h0M245.8 1509.3h0M284.7 1502.8h0M317.1 1564.0h0M292.8 1534.2h0M303.4 1572.1h0M259.9 1493.5h0M350.0 1544.1h0M313.3 1553.4h0M340.0 1481.6h0M250.8 1465.1h0M334.2 1553.2h0M314.3 1540.9h0M315.1 1581.4h0M291.6 1576.2h0M321.9 1496.2h0M265.3 1548.8h0M328.6 1581.5h0M320.6 1513.7h0M224.0 1580.5h0M288.0 1466.5h0M213.3 1503.3h0M321.6 1485.2h0M314.8 1501.1h0M262.2 1535.4h0M309.9 1555.6h0M226.1 1577.4h0M331.8 1536.7h0M259.2 1469.3h0M280.3 1481.7h0M348.0 1516.5h0M220.9 1564.2h0M360.8 1472.8h0M344.8 1537.5h0M299.0 1549.5h0M327.0 1550.3h0M215.7 1492.9h0M240.6 1547.1h0M211.7 1563.3h0M231.2 1525.2h0M220.4 1559.2h0M296.9 1556.9h0M247.7 1484.3h0M365.3 1479.9h0M365.5 1547.0h0M330.8 1562.1h0M285.6 1562.9h0M312.0 1541.9h0M290.0 1505.4h0M253.8 1572.8h0M316.7 1503.4h0M345.8 1539.1h0M310.2 1528.7h0M298.5 1497.9h0M294.9 1487.9h0M214.7 1498.5h0M287.0 1525.7h0M234.2 1530.3h0M347.6 1528.1h0M347.8 1481.5h0M345.4 1486.1h0" stroke="#f59a38" stroke-opacity="0.65" stroke-width="5.2"/>
<path d="M363.1 1517.6h0M216.9 1577.3h0M247.5 1491.8h0M306.2 1479.9h0M283.1 1533.4h0M286.1 1479.6h0M339.3 1573.0h0M319.7 1521.6h0M341.1 1581.5h0M338.0 1495.5h0M240.9 1499.3h0M243.4 1498.2h0M278.2 1503.6h0M304.3 1494.9h0M299.5 1501.4h0M280.8 1540.9h0M343.5 1499.6h0M288.6 1484.7h0M327.2 1511.5h0M346.0 1571.0h0M319.7 1510.6h0M342.6 1574.8h0M268.1 1538.8h0M220.8 1562.8h0M358.1 1549.1h0M226.5 1528.5h0M276.2 1472.6h0M287.6 1538.7h0M215.0 1580.0h0M237.0 1558.7h0M244.2 1540.5h0M226.1 1578.0h0M288.9 1569.4h0M216.9 1480.2h0M298.7 1517.2h0M280.0 1472.9h0M284.0 1499.1h0M216.6 1501.7h0M326.7 1540.2h0M351.5 1510.0h0M228.7 1536.8h0M219.0 1468.0h0M252.8 1571.0h0M233.3 1545.5h0M234.2 1545.4h0M253.9 1471.2h0M298.9 1530.5h0M330.1 1542.6h0M334.6 1499.3h0M219.4 1542.3h0M270.1 1507.7h0M328.0 1488.4h0M264.2 1491.9h0M233.6 1487.0h0M332.1 1549.7h0" stroke="#dc4a16" stroke-width="1.8"/>
<path d="M317.8 1571.5h0M346.4 1477.7h0M230.7 1532.6h0M240.2 1525.5h0M353.8 1475.1h0M257.8 1542.6h0M364.3 1530.2h0M338.1 1516.2h0M223.2 1542.8h0M264.0 1502.9h0M211.4 1521.3h0M282.2 1543.7h0M332.3 1528.7h0M292.8 1565.3h0M318.4 1493.6h0M261.4 1478.5h0M319.6 1539.4h0M312.9 1468.8h0M226.7 1507.2h0M321.2 1491.3h0M241.2 1492.1h0M283.6 1480.0h0M312.1 1531.2h0M253.0 1549.7h0M257.1 1545.5h0M360.7 1545.5h0M246.5 1569.1h0M347.5 1561.8h0M289.5 1555.0h0M362.5 1471.1h0M218.9 1513.6h0M341.2 1553.3h0M291.3 1528.0h0M228.9 1527.8h0M257.3 1575.4h0M234.8 1547.0h0M232.6 1567.5h0M332.6 1484.8h0M251.0 1482.6h0M230.7 1470.9h0M334.2 1544.7h0M337.8 1543.7h0M320.9 1567.7h0M214.2 1545.7h0M333.7 1519.9h0M222.8 1463.9h0M363.8 1472.6h0M222.4 1571.5h0M363.6 1484.6h0M220.7 1477.5h0M353.7 1563.7h0M352.9 1522.2h0M212.6 1552.5h0M334.1 1481.8h0M266.6 1563.2h0M321.4 1467.6h0M214.1 1516.7h0M358.7 1536.5h0M314.6 1472.6h0M299.0 1546.8h0M301.8 1528.3h0M259.9 1483.7h0M305.5 1566.7h0M312.0 1507.9h0M301.0 1482.0h0M346.9 1559.8h0M301.3 1524.7h0M232.5 1473.6h0M309.8 1524.4h0M243.6 1581.2h0M319.8 1580.5h0M224.9 1514.0h0" stroke="#dc4a16" stroke-width="1.4"/>
<path d="M312.3 1518.2h0M284.2 1493.3h0M237.6 1555.7h0M232.7 1467.9h0M353.8 1485.2h0M339.0 1554.8h0M327.5 1558.8h0M357.6 1476.4h0M272.6 1547.5h0M278.8 1501.9h0M272.5 1476.7h0M234.6 1550.3h0M274.4 1578.9h0M356.7 1514.0h0M266.4 1466.0h0M336.9 1558.8h0M353.3 1555.5h0M279.8 1557.0h0M217.5 1478.1h0M293.7 1510.8h0M302.8 1556.0h0M281.6 1470.3h0M226.0 1545.4h0M220.2 1534.4h0M235.2 1538.9h0M337.4 1537.7h0M242.8 1577.5h0M294.5 1506.5h0M360.5 1499.7h0M335.5 1511.8h0M218.2 1536.4h0M292.6 1564.2h0M328.6 1508.1h0M213.6 1474.6h0M217.3 1499.8h0M306.9 1488.6h0M339.2 1493.8h0M258.0 1539.3h0M304.8 1557.2h0M250.8 1466.0h0M254.4 1479.7h0M318.3 1530.6h0M307.7 1534.0h0M313.2 1535.5h0M266.0 1498.9h0M352.9 1490.3h0M313.4 1553.8h0M322.3 1494.0h0M225.7 1515.4h0M231.8 1531.7h0M357.0 1518.1h0M316.4 1469.7h0M326.0 1499.4h0M232.6 1490.3h0M236.2 1483.4h0M237.6 1543.7h0M272.3 1554.6h0M332.9 1495.1h0M298.3 1496.0h0M302.8 1540.8h0M219.3 1500.6h0M354.9 1554.8h0M322.6 1505.0h0M301.6 1546.2h0M311.8 1518.6h0M335.9 1519.0h0M321.3 1559.4h0M327.1 1498.6h0M295.6 1488.7h0M289.3 1466.7h0M363.2 1507.2h0" stroke="#dc4a16" stroke-width="2.2"/>
<path d="M305.0 1498.4h0M344.7 1532.3h0M285.3 1480.9h0M290.2 1572.3h0M284.7 1537.0h0M224.8 1517.6h0M309.8 1541.8h0M342.1 1537.1h0M308.0 1482.9h0M215.3 1559.2h0M261.3 1557.5h0M232.1 1517.8h0M331.5 1498.8h0M254.5 1573.6h0M247.5 1498.0h0M311.6 1500.8h0M313.5 1525.6h0M307.9 1536.5h0M237.9 1580.4h0M211.8 1491.8h0M343.8 1469.8h0M308.6 1511.3h0M267.8 1531.9h0M357.6 1481.9h0M282.5 1573.9h0M346.0 1555.0h0M316.5 1576.8h0M234.9 1533.1h0M338.4 1536.7h0M289.9 1494.0h0M253.1 1522.5h0M299.5 1573.9h0M282.7 1493.8h0M325.3 1513.1h0M342.5 1539.6h0M349.2 1565.1h0M334.8 1569.0h0M294.0 1485.0h0M314.2 1539.6h0M317.4 1524.5h0M291.0 1496.0h0M333.7 1579.5h0M258.1 1511.3h0M290.6 1503.0h0M294.6 1529.1h0M253.6 1534.2h0M266.4 1472.0h0M263.3 1578.9h0M297.3 1530.9h0M342.1 1466.2h0M228.8 1513.7h0M321.5 1544.1h0M360.9 1559.5h0M348.6 1527.8h0M281.4 1473.7h0M271.9 1522.5h0M268.9 1571.8h0M356.8 1577.1h0M309.4 1511.0h0M355.4 1466.2h0M294.7 1523.1h0M222.7 1561.4h0M309.6 1481.3h0M328.0 1532.7h0M232.7 1567.9h0M357.8 1516.9h0M286.4 1501.9h0M312.1 1522.6h0M324.3 1538.3h0M335.7 1533.7h0M350.3 1580.6h0M267.5 1504.9h0M313.0 1571.0h0M335.0 1531.5h0M275.3 1511.8h0" stroke="#dc4a16" stroke-width="2.6"/>
<path d="M245.4 1541.3h0M248.9 1507.3h0M244.2 1545.6h0M351.8 1553.2h0M348.7 1569.3h0M320.8 1498.2h0M311.2 1566.8h0M245.8 1509.3h0M284.7 1502.8h0M317.1 1564.0h0M292.8 1534.2h0M303.4 1572.1h0M259.9 1493.5h0M350.0 1544.1h0M313.3 1553.4h0M340.0 1481.6h0M250.8 1465.1h0M334.2 1553.2h0M314.3 1540.9h0M315.1 1581.4h0M291.6 1576.2h0M321.9 1496.2h0M265.3 1548.8h0M328.6 1581.5h0M320.6 1513.7h0M224.0 1580.5h0M288.0 1466.5h0M213.3 1503.3h0M321.6 1485.2h0M314.8 1501.1h0M262.2 1535.4h0M309.9 1555.6h0M226.1 1577.4h0M331.8 1536.7h0M259.2 1469.3h0M280.3 1481.7h0M348.0 1516.5h0M220.9 1564.2h0M360.8 1472.8h0M344.8 1537.5h0M299.0 1549.5h0M327.0 1550.3h0M215.7 1492.9h0M240.6 1547.1h0M211.7 1563.3h0M231.2 1525.2h0M220.4 1559.2h0M296.9 1556.9h0M247.7 1484.3h0M365.3 1479.9h0M365.5 1547.0h0M330.8 1562.1h0M285.6 1562.9h0M312.0 1541.9h0M290.0 1505.4h0M253.8 1572.8h0M316.7 1503.4h0M345.8 1539.1h0M310.2 1528.7h0M298.5 1497.9h0M294.9 1487.9h0M214.7 1498.5h0M287.0 1525.7h0M234.2 1530.3h0M347.6 1528.1h0M347.8 1481.5h0M345.4 1486.1h0" stroke="#dc4a16" stroke-width="3.0"/>
</g>
</g>
<rect x="344" y="1570.6" width="13" height="3.4" fill="#fff"/>
<text transform="translate(56.7,1149.8) rotate(-90)" font-size="19" font-weight="bold" text-anchor="middle" >NC</text>
<text transform="translate(56.7,1275.8) rotate(-90)" font-size="19" font-weight="bold" text-anchor="middle" >MIR31HG</text>
<text transform="translate(35.6,1397.6) rotate(-90)" font-size="19" font-weight="bold" text-anchor="middle" >MIR31HG</text>
<text transform="translate(56.3,1397.6) rotate(-90)" font-size="19" font-weight="bold" text-anchor="middle" >&amp;</text>
<text transform="translate(78,1398) rotate(-90)" font-size="19" font-weight="bold" text-anchor="middle" >shFABP4</text>
<text transform="translate(34.3,1523.8) rotate(-90)" font-size="19" font-weight="bold" text-anchor="middle" >MIR31HG</text>
<text transform="translate(54.9,1523.8) rotate(-90)" font-size="19" font-weight="bold" text-anchor="middle" >&amp;</text>
<text transform="translate(78,1523.8) rotate(-90)" font-size="19" font-weight="bold" text-anchor="middle" >shNC</text>
<rect x="473.10" y="1169.50" width="19.90" height="12.70" fill="#99184f" stroke="#000" stroke-width="1.6"/>
<text x="504.5" y="1181.8" font-size="17.8" font-weight="bold" text-anchor="start" >NC</text>
<rect x="473.10" y="1191.70" width="19.90" height="12.70" fill="#001894" stroke="#000" stroke-width="1.6"/>
<text x="504.5" y="1204.0" font-size="17.8" font-weight="bold" text-anchor="start" >MIR31HG</text>
<rect x="473.10" y="1213.90" width="19.90" height="12.70" fill="#0a9a5c" stroke="#000" stroke-width="1.6"/>
<text x="504.5" y="1226.2" font-size="17.8" font-weight="bold" text-anchor="start" >MIR31HG+shFABP4</text>
<rect x="473.10" y="1236.10" width="19.90" height="12.70" fill="#965000" stroke="#000" stroke-width="1.6"/>
<text x="504.5" y="1248.3999999999999" font-size="17.8" font-weight="bold" text-anchor="start" >MIR31HG+shNC</text>
<line x1="498" y1="1270.35" x2="498" y2="1456.4499999999998" stroke="#000" stroke-width="1.7" />
<line x1="497.15" y1="1455.6" x2="635.7" y2="1455.6" stroke="#000" stroke-width="1.8" />
<line x1="491.8" y1="1455.6" x2="498" y2="1455.6" stroke="#000" stroke-width="1.7" />
<text x="490.0" y="1461.8" font-size="17.5" font-weight="bold" text-anchor="end" >0.0</text>
<line x1="491.8" y1="1409.5" x2="498" y2="1409.5" stroke="#000" stroke-width="1.7" />
<text x="490.0" y="1415.7" font-size="17.5" font-weight="bold" text-anchor="end" >0.5</text>
<line x1="491.8" y1="1363.3999999999999" x2="498" y2="1363.3999999999999" stroke="#000" stroke-width="1.7" />
<text x="490.0" y="1369.6" font-size="17.5" font-weight="bold" text-anchor="end" >1.0</text>
<line x1="491.8" y1="1317.3" x2="498" y2="1317.3" stroke="#000" stroke-width="1.7" />
<text x="490.0" y="1323.5" font-size="17.5" font-weight="bold" text-anchor="end" >1.5</text>
<line x1="491.8" y1="1271.1999999999998" x2="498" y2="1271.1999999999998" stroke="#000" stroke-width="1.7" />
<text x="490.0" y="1277.3999999999999" font-size="17.5" font-weight="bold" text-anchor="end" >2.0</text>
<line x1="525.65" y1="1357.7" x2="525.65" y2="1363.3" stroke="#000" stroke-width="1.7" />
<line x1="518.35" y1="1358.5" x2="532.9499999999999" y2="1358.5" stroke="#000" stroke-width="1.6" />
<rect x="511.90" y="1364.20" width="27.50" height="91.40" fill="#99184f" stroke="#000" stroke-width="1.8"/>
<line x1="525.65" y1="1455.6" x2="525.65" y2="1459.3999999999999" stroke="#000" stroke-width="1.7" />
<line x1="553.15" y1="1293" x2="553.15" y2="1297.3" stroke="#000" stroke-width="1.7" />
<line x1="545.85" y1="1293.8" x2="560.4499999999999" y2="1293.8" stroke="#000" stroke-width="1.6" />
<rect x="539.40" y="1298.20" width="27.50" height="157.40" fill="#001894" stroke="#000" stroke-width="1.8"/>
<line x1="553.15" y1="1455.6" x2="553.15" y2="1459.3999999999999" stroke="#000" stroke-width="1.7" />
<line x1="580.65" y1="1370.3" x2="580.65" y2="1375.2" stroke="#000" stroke-width="1.7" />
<line x1="573.35" y1="1371.1" x2="587.9499999999999" y2="1371.1" stroke="#000" stroke-width="1.6" />
<rect x="566.90" y="1376.10" width="27.50" height="79.50" fill="#0a9a5c" stroke="#000" stroke-width="1.8"/>
<line x1="580.65" y1="1455.6" x2="580.65" y2="1459.3999999999999" stroke="#000" stroke-width="1.7" />
<line x1="608.15" y1="1302.2" x2="608.15" y2="1305.2" stroke="#000" stroke-width="1.7" />
<line x1="600.85" y1="1303.0" x2="615.4499999999999" y2="1303.0" stroke="#000" stroke-width="1.6" />
<rect x="594.40" y="1306.10" width="27.50" height="149.50" fill="#965000" stroke="#000" stroke-width="1.8"/>
<line x1="608.15" y1="1455.6" x2="608.15" y2="1459.3999999999999" stroke="#000" stroke-width="1.7" />
<line x1="517.6" y1="1273.2" x2="554.6" y2="1273.2" stroke="#000" stroke-width="2.1" />
<line x1="552.4" y1="1282.3" x2="589.3" y2="1282.3" stroke="#000" stroke-width="2.1" />
<text x="535.6" y="1275.0" font-size="19" font-weight="bold" text-anchor="middle" >**</text>
<text x="570.2" y="1284.1" font-size="19" font-weight="bold" text-anchor="middle" >**</text>
<text transform="translate(421,1365.5) rotate(-90)" font-size="17.9" font-weight="bold" text-anchor="middle" >Quantification of Oil red O</text>
<text transform="translate(442,1360) rotate(-90)" font-size="18.1" font-weight="bold" text-anchor="middle" >(fold change)</text>
</svg></body></html>
